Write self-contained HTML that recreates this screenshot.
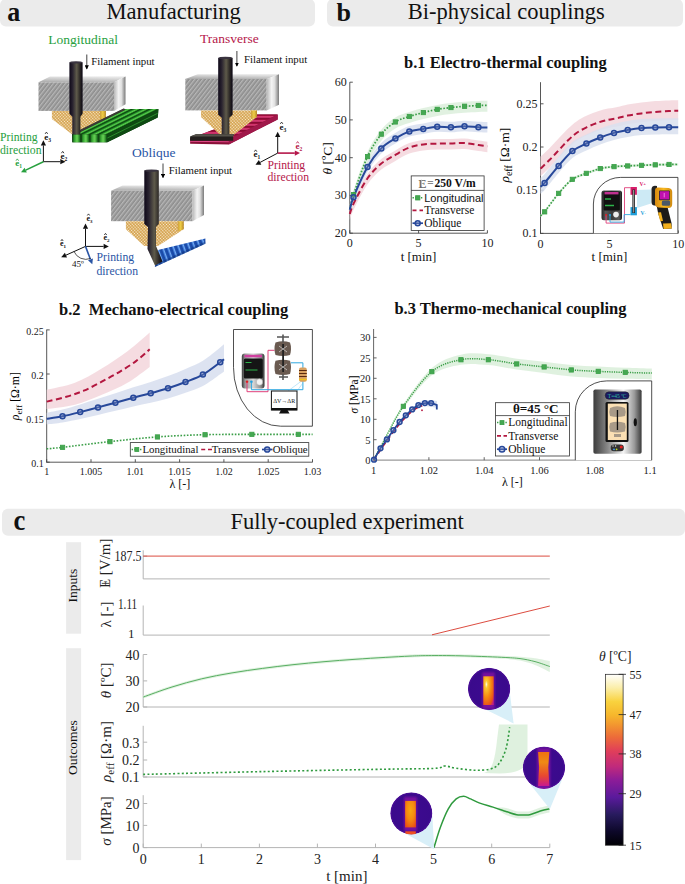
<!DOCTYPE html>
<html><head><meta charset="utf-8"><style>
html,body{margin:0;padding:0;background:#fff;}
svg{display:block;}
text{font-family:"Liberation Serif",serif;}
</style></head><body>
<svg width="685" height="884" viewBox="0 0 685 884">
<rect x="0" y="-1" width="315" height="27.6" rx="6" fill="#ebebeb"/>
<rect x="327" y="-1" width="356" height="27.4" rx="6" fill="#ebebeb"/>
<rect x="2" y="508.8" width="683" height="26.9" rx="6" fill="#ebebeb"/>
<text x="7.3" y="20.6" font-size="28" text-anchor="start" fill="#111" font-weight="bold" font-style="normal" style='font-family:"Liberation Serif",serif' textLength="13" lengthAdjust="spacingAndGlyphs">a</text>
<text x="106.5" y="18.8" font-size="22.6" text-anchor="start" fill="#111" font-weight="normal" font-style="normal" style='font-family:"Liberation Serif",serif' >Manufacturing</text>
<text x="336.5" y="20.6" font-size="26" text-anchor="start" fill="#111" font-weight="bold" font-style="normal" style='font-family:"Liberation Serif",serif' >b</text>
<text x="407.8" y="19.2" font-size="22.5" text-anchor="start" fill="#111" font-weight="normal" font-style="normal" style='font-family:"Liberation Serif",serif' >Bi-physical couplings</text>
<text x="13.4" y="529.9" font-size="29.5" text-anchor="start" fill="#111" font-weight="bold" font-style="normal" style='font-family:"Liberation Serif",serif' textLength="11.8" lengthAdjust="spacingAndGlyphs">c</text>
<text x="230.6" y="528.8" font-size="22.5" text-anchor="start" fill="#111" font-weight="normal" font-style="normal" style='font-family:"Liberation Serif",serif' >Fully-coupled experiment</text>
<text x="404" y="67.7" font-size="16.5" text-anchor="start" fill="#111" font-weight="bold" font-style="normal" style='font-family:"Liberation Serif",serif' >b.1 Electro-thermal coupling</text>
<text x="59" y="314.6" font-size="16.5" text-anchor="start" fill="#111" font-weight="bold" font-style="normal" style='font-family:"Liberation Serif",serif' >b.2&#160; Mechano-electrical coupling</text>
<text x="394.4" y="314" font-size="16.5" text-anchor="start" fill="#111" font-weight="bold" font-style="normal" style='font-family:"Liberation Serif",serif' >b.3 Thermo-mechanical coupling</text>
<path d="M349.8,82.2 V233.2" fill="none" stroke="#444" stroke-width="0.9"/>
<path d="M349.4,233.2 H487.4" fill="none" stroke="#444" stroke-width="0.9"/>
<path d="M349.8,233.2 v-3" stroke="#444" stroke-width="0.9"/>
<text x="349.8" y="247.4" font-size="12" text-anchor="middle" fill="#222" font-weight="normal" font-style="normal" style='font-family:"Liberation Serif",serif' >0</text>
<path d="M418.6,233.2 v-3" stroke="#444" stroke-width="0.9"/>
<text x="418.6" y="247.4" font-size="12" text-anchor="middle" fill="#222" font-weight="normal" font-style="normal" style='font-family:"Liberation Serif",serif' >5</text>
<path d="M487.4,233.2 v-3" stroke="#444" stroke-width="0.9"/>
<text x="487.4" y="247.4" font-size="12" text-anchor="middle" fill="#222" font-weight="normal" font-style="normal" style='font-family:"Liberation Serif",serif' >10</text>
<path d="M349.8,233.2 h3" stroke="#444" stroke-width="0.9"/>
<text x="346.8" y="237.2" font-size="12" text-anchor="end" fill="#222" font-weight="normal" font-style="normal" style='font-family:"Liberation Serif",serif' >20</text>
<path d="M349.8,195.4 h3" stroke="#444" stroke-width="0.9"/>
<text x="346.8" y="199.4" font-size="12" text-anchor="end" fill="#222" font-weight="normal" font-style="normal" style='font-family:"Liberation Serif",serif' >30</text>
<path d="M349.8,157.7 h3" stroke="#444" stroke-width="0.9"/>
<text x="346.8" y="161.7" font-size="12" text-anchor="end" fill="#222" font-weight="normal" font-style="normal" style='font-family:"Liberation Serif",serif' >40</text>
<path d="M349.8,119.9 h3" stroke="#444" stroke-width="0.9"/>
<text x="346.8" y="123.9" font-size="12" text-anchor="end" fill="#222" font-weight="normal" font-style="normal" style='font-family:"Liberation Serif",serif' >50</text>
<path d="M349.8,82.2 h3" stroke="#444" stroke-width="0.9"/>
<text x="346.8" y="86.2" font-size="12" text-anchor="end" fill="#222" font-weight="normal" font-style="normal" style='font-family:"Liberation Serif",serif' >60</text>
<path d="M349.8,209.5 C350.4,207.7 350.8,204.8 353.7,198.9 C356.6,193 362.8,180.6 367.4,174 C372,167.4 376.6,163 381.3,159.1 C386,155.2 390.7,153.1 395.4,150.4 C400.1,147.7 404.6,144.8 409.3,143 C414,141.2 418.7,140.6 423.3,139.9 C427.9,139.2 432.6,139.3 437.2,139.1 C441.8,138.9 446.3,139 450.9,138.9 C455.4,138.8 459.9,138.2 464.5,138.5 C469.1,138.8 474.6,140 478.4,140.5 C482.2,141 485.9,141.5 487.4,141.7 L487.4,152.2 C485.9,152 482.2,151.5 478.4,151 C474.6,150.5 469.1,149.3 464.5,149 C459.9,148.7 455.4,149.3 450.9,149.4 C446.3,149.5 441.8,149.4 437.2,149.6 C432.6,149.8 427.9,149.8 423.3,150.4 C418.7,151.1 414,151.8 409.3,153.5 C404.6,155.2 400.1,158.2 395.4,160.9 C390.7,163.6 386,165.7 381.3,169.6 C376.6,173.5 372,177.9 367.4,184.5 C362.8,191.1 356.6,203.5 353.7,209.4 C350.8,215.3 350.4,218.2 349.8,220 Z" fill="#f4d8de" fill-opacity="0.9" stroke="none"/>
<path d="M349.8,204.2 C350.4,202.1 350.6,198.8 353.5,191.7 C356.4,184.6 362.9,169.6 367.5,161.5 C372.1,153.4 376.7,147.7 381.3,142.9 C385.9,138.1 390.7,135.7 395.4,132.9 C400.1,130.1 404.6,127.6 409.3,126 C414,124.4 418.7,124.2 423.3,123.4 C427.9,122.6 432.6,121.6 437.2,121.3 C441.8,121 446.3,121.9 450.9,121.8 C455.4,121.7 459.9,120.7 464.5,120.7 C469.1,120.7 474.6,121.6 478.4,121.8 C482.2,122 485.9,122 487.4,122 L487.4,132.5 C485.9,132.5 482.2,132.5 478.4,132.3 C474.6,132.1 469.1,131.2 464.5,131.2 C459.9,131.2 455.4,132.2 450.9,132.3 C446.3,132.4 441.8,131.5 437.2,131.8 C432.6,132.1 427.9,133.1 423.3,133.9 C418.7,134.7 414,134.9 409.3,136.5 C404.6,138.1 400.1,140.6 395.4,143.4 C390.7,146.2 385.9,148.6 381.3,153.4 C376.7,158.2 372.1,163.9 367.5,172 C362.9,180.1 356.4,195.1 353.5,202.2 C350.6,209.3 350.4,212.6 349.8,214.7 Z" fill="#d9e0ef" fill-opacity="0.9" stroke="none"/>
<path d="M350,204.5 C350.6,202.1 350.6,198.9 353.5,190.2 C356.4,181.5 362.9,162.2 367.5,152.1 C372.1,142 376.7,135.5 381.3,129.7 C385.9,123.9 390.7,120.5 395.4,117.5 C400.1,114.5 404.6,113.6 409.3,112 C414,110.4 418.7,109.3 423.3,108.1 C427.9,106.9 432.6,105.7 437.2,104.9 C441.8,104.1 446.3,103.6 450.9,103.1 C455.4,102.6 459.9,102.1 464.5,101.8 C469.1,101.5 474.6,101.2 478.4,101 C482.2,100.8 485.9,100.8 487.4,100.8 L487.4,111.8 C485.9,111.8 482.2,111.8 478.4,112 C474.6,112.2 469.1,112.5 464.5,112.8 C459.9,113.1 455.4,113.6 450.9,114.1 C446.3,114.6 441.8,115.1 437.2,115.9 C432.6,116.7 427.9,117.9 423.3,119.1 C418.7,120.3 414,121.4 409.3,123 C404.6,124.6 400.1,125.5 395.4,128.5 C390.7,131.4 385.9,134.9 381.3,140.7 C376.7,146.5 372.1,153 367.5,163.1 C362.9,173.2 356.4,192.5 353.5,201.2 C350.6,209.9 350.6,213.1 350,215.5 Z" fill="#dcefdc" fill-opacity="0.85" stroke="none"/>
<path d="M349.8,214 C350.4,212.2 350.8,209.3 353.7,203.4 C356.6,197.5 362.8,185.1 367.4,178.5 C372,171.9 376.6,167.5 381.3,163.6 C386,159.7 390.7,157.6 395.4,154.9 C400.1,152.2 404.6,149.2 409.3,147.5 C414,145.8 418.7,145.1 423.3,144.4 C427.9,143.8 432.6,143.8 437.2,143.6 C441.8,143.4 446.3,143.5 450.9,143.4 C455.4,143.3 459.9,142.7 464.5,143 C469.1,143.3 474.6,144.5 478.4,145 C482.2,145.5 485.9,146 487.4,146.2" fill="none" stroke="#b3173f" stroke-width="2" stroke-dasharray="6,3.5" stroke-linecap="butt" />
<path d="M350,209 C350.6,206.6 350.6,203.4 353.5,194.7 C356.4,186 362.9,166.7 367.5,156.6 C372.1,146.5 376.7,140 381.3,134.2 C385.9,128.4 390.7,125 395.4,122 C400.1,119 404.6,118.1 409.3,116.5 C414,114.9 418.7,113.8 423.3,112.6 C427.9,111.4 432.6,110.2 437.2,109.4 C441.8,108.6 446.3,108.1 450.9,107.6 C455.4,107.1 459.9,106.6 464.5,106.3 C469.1,106 474.6,105.7 478.4,105.5 C482.2,105.3 485.9,105.3 487.4,105.3" fill="none" stroke="#3a9e47" stroke-width="1.7" stroke-dasharray="1.6,1.6" stroke-linecap="butt" />
<path d="M349.8,209.7 C350.4,207.6 350.6,204.3 353.5,197.2 C356.4,190.1 362.9,175.1 367.5,167 C372.1,158.9 376.7,153.2 381.3,148.4 C385.9,143.6 390.7,141.2 395.4,138.4 C400.1,135.6 404.6,133.1 409.3,131.5 C414,129.9 418.7,129.7 423.3,128.9 C427.9,128.1 432.6,127.1 437.2,126.8 C441.8,126.5 446.3,127.4 450.9,127.3 C455.4,127.2 459.9,126.2 464.5,126.2 C469.1,126.2 474.6,127.1 478.4,127.3 C482.2,127.5 485.9,127.5 487.4,127.5" fill="none" stroke="#27489a" stroke-width="2" stroke-linecap="butt" />
<rect x="351.4" y="192.5" width="4.3" height="4.3" fill="#45a852" stroke="#3a9e47" stroke-width="0.8"/>
<rect x="365.4" y="154.4" width="4.3" height="4.3" fill="#45a852" stroke="#3a9e47" stroke-width="0.8"/>
<rect x="379.2" y="132" width="4.3" height="4.3" fill="#45a852" stroke="#3a9e47" stroke-width="0.8"/>
<rect x="393.2" y="119.8" width="4.3" height="4.3" fill="#45a852" stroke="#3a9e47" stroke-width="0.8"/>
<rect x="407.2" y="114.3" width="4.3" height="4.3" fill="#45a852" stroke="#3a9e47" stroke-width="0.8"/>
<rect x="421.2" y="110.4" width="4.3" height="4.3" fill="#45a852" stroke="#3a9e47" stroke-width="0.8"/>
<rect x="435.1" y="107.2" width="4.3" height="4.3" fill="#45a852" stroke="#3a9e47" stroke-width="0.8"/>
<rect x="448.8" y="105.4" width="4.3" height="4.3" fill="#45a852" stroke="#3a9e47" stroke-width="0.8"/>
<rect x="462.4" y="104.1" width="4.3" height="4.3" fill="#45a852" stroke="#3a9e47" stroke-width="0.8"/>
<rect x="476.2" y="103.3" width="4.3" height="4.3" fill="#45a852" stroke="#3a9e47" stroke-width="0.8"/>
<circle cx="353.5" cy="197.2" r="2.5" fill="#7d90c4" fill-opacity="0.35" stroke="#27489a" stroke-width="1.5"/>
<circle cx="367.5" cy="167" r="2.5" fill="#7d90c4" fill-opacity="0.35" stroke="#27489a" stroke-width="1.5"/>
<circle cx="381.3" cy="148.4" r="2.5" fill="#7d90c4" fill-opacity="0.35" stroke="#27489a" stroke-width="1.5"/>
<circle cx="395.4" cy="138.4" r="2.5" fill="#7d90c4" fill-opacity="0.35" stroke="#27489a" stroke-width="1.5"/>
<circle cx="409.3" cy="131.5" r="2.5" fill="#7d90c4" fill-opacity="0.35" stroke="#27489a" stroke-width="1.5"/>
<circle cx="423.3" cy="128.9" r="2.5" fill="#7d90c4" fill-opacity="0.35" stroke="#27489a" stroke-width="1.5"/>
<circle cx="437.2" cy="126.8" r="2.5" fill="#7d90c4" fill-opacity="0.35" stroke="#27489a" stroke-width="1.5"/>
<circle cx="450.9" cy="127.3" r="2.5" fill="#7d90c4" fill-opacity="0.35" stroke="#27489a" stroke-width="1.5"/>
<circle cx="464.5" cy="126.2" r="2.5" fill="#7d90c4" fill-opacity="0.35" stroke="#27489a" stroke-width="1.5"/>
<circle cx="478.4" cy="127.3" r="2.5" fill="#7d90c4" fill-opacity="0.35" stroke="#27489a" stroke-width="1.5"/>
<text x="418.5" y="260.6" font-size="13" text-anchor="middle" fill="#111" font-weight="normal" font-style="normal" style='font-family:"Liberation Serif",serif' >t [min]</text>
<text transform="translate(331.6,158.4) rotate(-90)" font-size="13.5" text-anchor="middle" style='font-family:"Liberation Serif",serif'><tspan font-style="italic">&#952;</tspan> [ºC]</text>
<rect x="411.2" y="175.9" width="72.9" height="54.5" fill="#fff" stroke="#333" stroke-width="0.8"/>
<path d="M411.2,190.4 H484.1" stroke="#333" stroke-width="0.8"/>
<text x="418.6" y="187.6" font-size="13.5" fill="#6a6a6a" font-weight="bold" style='font-family:"Liberation Serif",serif' textLength="8" lengthAdjust="spacingAndGlyphs">E</text>
<path d="M421.4,179.6 V186.3" stroke="#c8c8c8" stroke-width="0.8"/>
<text x="427.2" y="187.3" font-size="13" fill="#888" font-weight="bold" style='font-family:"Liberation Serif",serif' textLength="6.4" lengthAdjust="spacingAndGlyphs">=</text>
<text x="434.4" y="187.3" font-size="13" fill="#111" font-weight="bold" style='font-family:"Liberation Serif",serif' textLength="41.4" lengthAdjust="spacingAndGlyphs">250 V/m</text>
<path d="M412.5,197.8 H423" stroke="#3a9e47" stroke-width="1.5" stroke-dasharray="1.4,1.4"/>
<rect x="415.6" y="195.7" width="4.3" height="4.3" fill="#45a852" stroke="#3a9e47" stroke-width="0.8"/>
<text x="424.2" y="201.6" font-size="11" text-anchor="start" fill="#111" font-weight="normal" font-style="normal" style='font-family:"Liberation Sans",sans-serif' >Longitudinal</text>
<path d="M412.5,210.3 H423" stroke="#b3173f" stroke-width="1.7" stroke-dasharray="4,3"/>
<text x="424.2" y="214.1" font-size="11.5" text-anchor="start" fill="#111" font-weight="normal" font-style="normal" style='font-family:"Liberation Serif",serif' >Transverse</text>
<path d="M412.5,223.2 H423" stroke="#27489a" stroke-width="1.7"/>
<circle cx="417.7" cy="223.2" r="2.5" fill="#7d90c4" fill-opacity="0.35" stroke="#27489a" stroke-width="1.5"/>
<text x="424.2" y="227.1" font-size="11.5" text-anchor="start" fill="#111" font-weight="normal" font-style="normal" style='font-family:"Liberation Serif",serif' >Oblique</text>
<path d="M540.5,82.2 V233.4" fill="none" stroke="#444" stroke-width="0.9"/>
<path d="M540,233.4 H678.2" fill="none" stroke="#444" stroke-width="0.9"/>
<path d="M540.5,233.4 v-3" stroke="#444" stroke-width="0.9"/>
<text x="540.5" y="247.6" font-size="12" text-anchor="middle" fill="#222" font-weight="normal" font-style="normal" style='font-family:"Liberation Serif",serif' >0</text>
<path d="M609.4,233.4 v-3" stroke="#444" stroke-width="0.9"/>
<text x="609.4" y="247.6" font-size="12" text-anchor="middle" fill="#222" font-weight="normal" font-style="normal" style='font-family:"Liberation Serif",serif' >5</text>
<path d="M678.2,233.4 v-3" stroke="#444" stroke-width="0.9"/>
<text x="678.2" y="247.6" font-size="12" text-anchor="middle" fill="#222" font-weight="normal" font-style="normal" style='font-family:"Liberation Serif",serif' >10</text>
<path d="M540.5,233.4 h3" stroke="#444" stroke-width="0.9"/>
<text x="537.5" y="237.4" font-size="12" text-anchor="end" fill="#222" font-weight="normal" font-style="normal" style='font-family:"Liberation Serif",serif' >0.1</text>
<path d="M540.5,190.2 h3" stroke="#444" stroke-width="0.9"/>
<text x="537.5" y="194.2" font-size="12" text-anchor="end" fill="#222" font-weight="normal" font-style="normal" style='font-family:"Liberation Serif",serif' >0.15</text>
<path d="M540.5,147 h3" stroke="#444" stroke-width="0.9"/>
<text x="537.5" y="151" font-size="12" text-anchor="end" fill="#222" font-weight="normal" font-style="normal" style='font-family:"Liberation Serif",serif' >0.2</text>
<path d="M540.5,103.8 h3" stroke="#444" stroke-width="0.9"/>
<text x="537.5" y="107.8" font-size="12" text-anchor="end" fill="#222" font-weight="normal" font-style="normal" style='font-family:"Liberation Serif",serif' >0.25</text>
<path d="M540.5,156.6 C542,155.2 546.6,151 549.7,147.9 C552.8,144.8 555.9,141.4 559,138.1 C562.1,134.8 565.5,131.1 568.4,128.3 C571.3,125.5 573.4,123.5 576.5,121.4 C579.6,119.3 583.3,117.3 587,115.6 C590.7,113.9 595.2,112.2 598.7,111 C602.2,109.9 604.9,109.3 608,108.6 C611.1,108 614.1,107.6 617.4,106.9 C620.7,106.3 623.7,105.3 627.7,104.5 C631.7,103.8 636.9,103.1 641.5,102.5 C646.1,101.9 650.7,101.5 655.3,101.1 C659.9,100.8 665.2,100.5 669,100.4 C672.8,100.3 676.7,100.3 678.2,100.3 L678.2,120.1 C676.7,120.1 672.8,120 669,120.2 C665.2,120.3 659.9,120.6 655.3,120.9 C650.7,121.2 646.1,121.7 641.5,122.2 C636.9,122.8 631.7,123.5 627.7,124.2 C623.7,125 620.7,125.9 617.4,126.6 C614.1,127.3 611.1,127.6 608,128.3 C604.9,129 602.2,129.5 598.7,130.7 C595.2,131.8 590.7,133.5 587,135.2 C583.3,136.9 579.6,138.9 576.5,141 C573.4,143.1 571.3,145.1 568.4,147.9 C565.5,150.6 562.1,154.4 559,157.6 C555.9,160.9 552.8,164.3 549.7,167.4 C546.6,170.5 542,174.7 540.5,176.1 Z" fill="#f4d8de" fill-opacity="0.9" stroke="none"/>
<path d="M540.5,177.7 C541.2,177.1 541.6,177.4 544.6,173.9 C547.6,170.4 554,162.2 558.6,156.9 C563.2,151.6 567.8,145.7 572.4,142 C577,138.3 581.8,136.8 586.4,134.5 C591,132.2 595.6,130.3 600.2,128.5 C604.8,126.7 609.4,125.2 614,123.9 C618.6,122.7 623.1,121.8 627.7,121 C632.3,120.2 636.9,119.5 641.5,119.1 C646.1,118.7 650.7,118.6 655.3,118.5 C659.9,118.4 665.2,118.3 669,118.3 C672.8,118.3 676.7,118.3 678.2,118.3 L678.2,134.3 C676.7,134.3 672.8,134.3 669,134.3 C665.2,134.3 659.9,134.4 655.3,134.5 C650.7,134.6 646.1,134.7 641.5,135.1 C636.9,135.5 632.3,136.2 627.7,137 C623.1,137.8 618.6,138.7 614,139.9 C609.4,141.2 604.8,142.7 600.2,144.5 C595.6,146.3 591,148.2 586.4,150.5 C581.8,152.8 577,154.3 572.4,158 C567.8,161.7 563.2,167.6 558.6,172.9 C554,178.2 547.6,186.4 544.6,189.9 C541.6,193.4 541.2,193.1 540.5,193.7 Z" fill="#d9e0ef" fill-opacity="0.85" stroke="none"/>
<path d="M540.5,214.5 C541.2,213.8 541.6,214.2 544.6,210.5 C547.6,206.8 554,197.5 558.6,192.1 C563.2,186.7 567.8,181.4 572.4,178.1 C577,174.8 581.8,173.9 586.4,172.1 C591,170.3 595.6,168.4 600.2,167.3 C604.8,166.2 609.4,165.8 614,165.4 C618.6,164.9 623.1,164.8 627.7,164.6 C632.3,164.4 636.9,164.2 641.5,164 C646.1,163.8 650.7,163.6 655.3,163.5 C659.9,163.4 665.2,163.2 669,163.2 C672.8,163.1 676.7,163.2 678.2,163.2 L678.2,165.8 C676.7,165.8 672.8,165.8 669,165.8 C665.2,165.9 659.9,166 655.3,166.1 C650.7,166.2 646.1,166.4 641.5,166.6 C636.9,166.8 632.3,167 627.7,167.2 C623.1,167.4 618.6,167.6 614,168 C609.4,168.4 604.8,168.8 600.2,169.9 C595.6,171 591,172.9 586.4,174.7 C581.8,176.5 577,177.4 572.4,180.7 C567.8,184 563.2,189.3 558.6,194.7 C554,200.1 547.6,209.4 544.6,213.1 C541.6,216.8 541.2,216.4 540.5,217.1 Z" fill="#dcefdc" fill-opacity="0.9" stroke="none"/>
<path d="M540.5,168.6 C542,167.1 546.6,162.9 549.7,159.8 C552.8,156.7 555.9,153.2 559,149.9 C562.1,146.6 565.5,142.8 568.4,140 C571.3,137.2 573.4,135.2 576.5,133 C579.6,130.8 583.3,128.9 587,127.1 C590.7,125.3 595.2,123.6 598.7,122.4 C602.2,121.2 604.9,120.6 608,119.9 C611.1,119.2 614.1,118.8 617.4,118.1 C620.7,117.4 623.7,116.4 627.7,115.6 C631.7,114.8 636.9,114 641.5,113.4 C646.1,112.8 650.7,112.3 655.3,111.9 C659.9,111.5 665.2,111.2 669,111 C672.8,110.8 676.7,110.8 678.2,110.8" fill="none" stroke="#b3173f" stroke-width="2" stroke-dasharray="6,3.5" stroke-linecap="butt" />
<path d="M540.5,215.8 C541.2,215.1 541.6,215.5 544.6,211.8 C547.6,208.1 554,198.8 558.6,193.4 C563.2,188 567.8,182.7 572.4,179.4 C577,176.1 581.8,175.2 586.4,173.4 C591,171.6 595.6,169.7 600.2,168.6 C604.8,167.5 609.4,167.1 614,166.7 C618.6,166.2 623.1,166.1 627.7,165.9 C632.3,165.7 636.9,165.5 641.5,165.3 C646.1,165.1 650.7,164.9 655.3,164.8 C659.9,164.7 665.2,164.6 669,164.5 C672.8,164.4 676.7,164.5 678.2,164.5" fill="none" stroke="#3a9e47" stroke-width="1.7" stroke-dasharray="1.6,1.6" stroke-linecap="butt" />
<path d="M540.5,186.7 C541.2,186.1 541.6,186.4 544.6,182.9 C547.6,179.4 554,171.2 558.6,165.9 C563.2,160.6 567.8,154.7 572.4,151 C577,147.3 581.8,145.8 586.4,143.5 C591,141.2 595.6,139.3 600.2,137.5 C604.8,135.7 609.4,134.2 614,132.9 C618.6,131.7 623.1,130.8 627.7,130 C632.3,129.2 636.9,128.5 641.5,128.1 C646.1,127.7 650.7,127.6 655.3,127.5 C659.9,127.4 665.2,127.3 669,127.3 C672.8,127.3 676.7,127.3 678.2,127.3" fill="none" stroke="#27489a" stroke-width="2" stroke-linecap="butt" />
<rect x="542.5" y="209.7" width="4.3" height="4.3" fill="#45a852" stroke="#3a9e47" stroke-width="0.8"/>
<rect x="556.5" y="191.2" width="4.3" height="4.3" fill="#45a852" stroke="#3a9e47" stroke-width="0.8"/>
<rect x="570.2" y="177.2" width="4.3" height="4.3" fill="#45a852" stroke="#3a9e47" stroke-width="0.8"/>
<rect x="584.2" y="171.2" width="4.3" height="4.3" fill="#45a852" stroke="#3a9e47" stroke-width="0.8"/>
<rect x="598.1" y="166.4" width="4.3" height="4.3" fill="#45a852" stroke="#3a9e47" stroke-width="0.8"/>
<rect x="611.9" y="164.5" width="4.3" height="4.3" fill="#45a852" stroke="#3a9e47" stroke-width="0.8"/>
<rect x="625.6" y="163.8" width="4.3" height="4.3" fill="#45a852" stroke="#3a9e47" stroke-width="0.8"/>
<rect x="639.4" y="163.2" width="4.3" height="4.3" fill="#45a852" stroke="#3a9e47" stroke-width="0.8"/>
<rect x="653.1" y="162.7" width="4.3" height="4.3" fill="#45a852" stroke="#3a9e47" stroke-width="0.8"/>
<rect x="666.9" y="162.3" width="4.3" height="4.3" fill="#45a852" stroke="#3a9e47" stroke-width="0.8"/>
<circle cx="544.6" cy="182.9" r="2.5" fill="#7d90c4" fill-opacity="0.35" stroke="#27489a" stroke-width="1.5"/>
<circle cx="558.6" cy="165.9" r="2.5" fill="#7d90c4" fill-opacity="0.35" stroke="#27489a" stroke-width="1.5"/>
<circle cx="572.4" cy="151" r="2.5" fill="#7d90c4" fill-opacity="0.35" stroke="#27489a" stroke-width="1.5"/>
<circle cx="586.4" cy="143.5" r="2.5" fill="#7d90c4" fill-opacity="0.35" stroke="#27489a" stroke-width="1.5"/>
<circle cx="600.2" cy="137.5" r="2.5" fill="#7d90c4" fill-opacity="0.35" stroke="#27489a" stroke-width="1.5"/>
<circle cx="614" cy="132.9" r="2.5" fill="#7d90c4" fill-opacity="0.35" stroke="#27489a" stroke-width="1.5"/>
<circle cx="627.7" cy="130" r="2.5" fill="#7d90c4" fill-opacity="0.35" stroke="#27489a" stroke-width="1.5"/>
<circle cx="641.5" cy="128.1" r="2.5" fill="#7d90c4" fill-opacity="0.35" stroke="#27489a" stroke-width="1.5"/>
<circle cx="655.3" cy="127.5" r="2.5" fill="#7d90c4" fill-opacity="0.35" stroke="#27489a" stroke-width="1.5"/>
<circle cx="669" cy="127.3" r="2.5" fill="#7d90c4" fill-opacity="0.35" stroke="#27489a" stroke-width="1.5"/>
<text x="609.4" y="260.6" font-size="13" text-anchor="middle" fill="#111" font-weight="normal" font-style="normal" style='font-family:"Liberation Serif",serif' >t [min]</text>
<text transform="translate(508.8,155.2) rotate(-90)" font-size="13.5" text-anchor="middle" style='font-family:"Liberation Serif",serif'><tspan font-style="italic">&#961;</tspan><tspan font-size="10" dy="3.5">eff</tspan><tspan dy="-3.5"> [&#937;·m]</tspan></text>
<path d="M46.7,329.6 V462.2" fill="none" stroke="#444" stroke-width="0.9"/>
<path d="M46.2,462.2 H312.6" fill="none" stroke="#444" stroke-width="0.9"/>
<path d="M46.7,462.2 v-3" stroke="#444" stroke-width="0.9"/>
<text x="46.7" y="475.2" font-size="11.2" text-anchor="middle" fill="#222" font-weight="normal" font-style="normal" style='font-family:"Liberation Serif",serif'  textLength="5" lengthAdjust="spacingAndGlyphs">1</text>
<path d="M91,462.2 v-3" stroke="#444" stroke-width="0.9"/>
<text x="91" y="475.2" font-size="11.2" text-anchor="middle" fill="#222" font-weight="normal" font-style="normal" style='font-family:"Liberation Serif",serif'  textLength="22.5" lengthAdjust="spacingAndGlyphs">1.005</text>
<path d="M135.3,462.2 v-3" stroke="#444" stroke-width="0.9"/>
<text x="135.3" y="475.2" font-size="11.2" text-anchor="middle" fill="#222" font-weight="normal" font-style="normal" style='font-family:"Liberation Serif",serif'  textLength="17.5" lengthAdjust="spacingAndGlyphs">1.01</text>
<path d="M179.6,462.2 v-3" stroke="#444" stroke-width="0.9"/>
<text x="179.6" y="475.2" font-size="11.2" text-anchor="middle" fill="#222" font-weight="normal" font-style="normal" style='font-family:"Liberation Serif",serif'  textLength="22.5" lengthAdjust="spacingAndGlyphs">1.015</text>
<path d="M223.9,462.2 v-3" stroke="#444" stroke-width="0.9"/>
<text x="223.9" y="475.2" font-size="11.2" text-anchor="middle" fill="#222" font-weight="normal" font-style="normal" style='font-family:"Liberation Serif",serif'  textLength="17.5" lengthAdjust="spacingAndGlyphs">1.02</text>
<path d="M268.2,462.2 v-3" stroke="#444" stroke-width="0.9"/>
<text x="268.2" y="475.2" font-size="11.2" text-anchor="middle" fill="#222" font-weight="normal" font-style="normal" style='font-family:"Liberation Serif",serif'  textLength="22.5" lengthAdjust="spacingAndGlyphs">1.025</text>
<path d="M312.5,462.2 v-3" stroke="#444" stroke-width="0.9"/>
<text x="312.5" y="475.2" font-size="11.2" text-anchor="middle" fill="#222" font-weight="normal" font-style="normal" style='font-family:"Liberation Serif",serif'  textLength="17.5" lengthAdjust="spacingAndGlyphs">1.03</text>
<path d="M46.7,462.2 h3" stroke="#444" stroke-width="0.9"/>
<text x="43.7" y="467.1" font-size="11.2" text-anchor="end" fill="#222" font-weight="normal" font-style="normal" style='font-family:"Liberation Serif",serif'  textLength="12.5" lengthAdjust="spacingAndGlyphs">0.1</text>
<path d="M46.7,418.1 h3" stroke="#444" stroke-width="0.9"/>
<text x="43.7" y="423" font-size="11.2" text-anchor="end" fill="#222" font-weight="normal" font-style="normal" style='font-family:"Liberation Serif",serif'  textLength="17.5" lengthAdjust="spacingAndGlyphs">0.15</text>
<path d="M46.7,374 h3" stroke="#444" stroke-width="0.9"/>
<text x="43.7" y="378.9" font-size="11.2" text-anchor="end" fill="#222" font-weight="normal" font-style="normal" style='font-family:"Liberation Serif",serif'  textLength="12.5" lengthAdjust="spacingAndGlyphs">0.2</text>
<path d="M46.7,329.9 h3" stroke="#444" stroke-width="0.9"/>
<text x="43.7" y="334.8" font-size="11.2" text-anchor="end" fill="#222" font-weight="normal" font-style="normal" style='font-family:"Liberation Serif",serif'  textLength="17.5" lengthAdjust="spacingAndGlyphs">0.25</text>
<path d="M46.7,389.8 C51.4,388.6 65.9,386.3 75,382.8 C84.1,379.3 92.5,374.1 101.3,368.8 C110,363.6 119.4,357.4 127.5,351.3 C135.6,345.2 146,335.6 149.7,332.5 L149.7,367 C146,369.6 135.6,378.1 127.5,382.8 C119.4,387.5 110,391.4 101.3,395 C92.5,398.6 84.1,402.4 75,404.7 C65.9,407 51.4,408.3 46.7,409 Z" fill="#f4d8de" fill-opacity="0.9"/>
<path d="M46.7,412.8 C49.3,412.2 56.9,410.9 62.5,409.5 C68.1,408.1 74.3,406.2 80.2,404.4 C86.1,402.6 92.1,400.7 98,398.8 C103.9,396.9 109.5,395.1 115.4,393.2 C121.3,391.3 127.4,389.2 133.3,387.3 C139.2,385.4 144.9,383.8 150.7,381.9 C156.5,380.1 162.2,378.3 168,376.1 C173.8,374 179.7,371.5 185.5,368.9 C191.3,366.4 197.1,364.3 202.9,360.7 C208.7,357.1 216.7,350.1 220.2,347.4 C223.7,344.6 223.4,344.7 224,344.2 L224,371.5 C223.4,371.9 223.7,371.9 220.2,374.3 C216.7,376.7 208.7,383 202.9,386.1 C197.1,389.1 191.3,390.7 185.5,392.8 C179.7,394.9 173.8,396.8 168,398.4 C162.2,400.1 156.5,401.3 150.7,402.7 C144.9,404 139.2,405.1 133.3,406.5 C127.4,407.9 121.3,409.4 115.4,410.8 C109.5,412.2 103.9,413.5 98,414.9 C92.1,416.2 86.1,417.6 80.2,418.9 C74.3,420.1 68.1,421.5 62.5,422.4 C56.9,423.3 49.3,424 46.7,424.3 Z" fill="#d9e0ef" fill-opacity="0.9"/>
<path d="M46.7,401.6 C50,400.8 60.1,398.6 66.3,396.8 C72.5,395 78,393.2 83.8,390.7 C89.6,388.2 95.5,385 101.3,381.9 C107.1,378.8 113,375.8 118.8,372.3 C124.6,368.8 131.2,364.7 136.3,360.9 C141.5,357.1 147.5,351.2 149.7,349.3" fill="none" stroke="#b3173f" stroke-width="2" stroke-dasharray="6,3.5" stroke-linecap="butt" />
<path d="M46.7,448.8 C49.3,448.6 52,448.5 62.5,447.3 C73,446.1 94.2,443.3 110,441.6 C125.8,439.9 141.7,438 157.5,436.9 C173.3,435.8 189.4,435.1 205.1,434.7 C220.8,434.3 236.2,434.4 251.8,434.4 C267.4,434.3 288.3,434.4 298.4,434.4 C308.5,434.4 310.2,434.4 312.6,434.4" fill="none" stroke="#3a9e47" stroke-width="1.6" stroke-dasharray="1.6,1.6" stroke-linecap="butt" />
<path d="M46.7,418.8 C49.3,418.4 56.9,417.4 62.5,416.3 C68.1,415.2 74.3,413.6 80.2,412.1 C86.1,410.6 92.1,409 98,407.4 C103.9,405.8 109.5,404.3 115.4,402.7 C121.3,401.1 127.4,399.3 133.3,397.7 C139.2,396.1 144.9,394.8 150.7,393.2 C156.5,391.6 162.2,390.2 168,388.3 C173.8,386.4 179.7,384.3 185.5,382 C191.3,379.7 197.1,377.9 202.9,374.6 C208.7,371.3 216.7,364.8 220.2,362.2 C223.7,359.6 223.4,359.7 224,359.2" fill="none" stroke="#27489a" stroke-width="2" stroke-linecap="butt" />
<rect x="60.4" y="445.2" width="4.3" height="4.3" fill="#45a852" stroke="#3a9e47" stroke-width="0.8"/>
<rect x="107.8" y="439.5" width="4.3" height="4.3" fill="#45a852" stroke="#3a9e47" stroke-width="0.8"/>
<rect x="155.3" y="434.8" width="4.3" height="4.3" fill="#45a852" stroke="#3a9e47" stroke-width="0.8"/>
<rect x="202.9" y="432.6" width="4.3" height="4.3" fill="#45a852" stroke="#3a9e47" stroke-width="0.8"/>
<rect x="249.7" y="432.2" width="4.3" height="4.3" fill="#45a852" stroke="#3a9e47" stroke-width="0.8"/>
<rect x="296.2" y="432.2" width="4.3" height="4.3" fill="#45a852" stroke="#3a9e47" stroke-width="0.8"/>
<circle cx="62.5" cy="416.3" r="2.5" fill="#7d90c4" fill-opacity="0.35" stroke="#27489a" stroke-width="1.5"/>
<circle cx="80.2" cy="412.1" r="2.5" fill="#7d90c4" fill-opacity="0.35" stroke="#27489a" stroke-width="1.5"/>
<circle cx="98" cy="407.4" r="2.5" fill="#7d90c4" fill-opacity="0.35" stroke="#27489a" stroke-width="1.5"/>
<circle cx="115.4" cy="402.7" r="2.5" fill="#7d90c4" fill-opacity="0.35" stroke="#27489a" stroke-width="1.5"/>
<circle cx="133.3" cy="397.7" r="2.5" fill="#7d90c4" fill-opacity="0.35" stroke="#27489a" stroke-width="1.5"/>
<circle cx="150.7" cy="393.2" r="2.5" fill="#7d90c4" fill-opacity="0.35" stroke="#27489a" stroke-width="1.5"/>
<circle cx="168" cy="388.3" r="2.5" fill="#7d90c4" fill-opacity="0.35" stroke="#27489a" stroke-width="1.5"/>
<circle cx="185.5" cy="382" r="2.5" fill="#7d90c4" fill-opacity="0.35" stroke="#27489a" stroke-width="1.5"/>
<circle cx="202.9" cy="374.6" r="2.5" fill="#7d90c4" fill-opacity="0.35" stroke="#27489a" stroke-width="1.5"/>
<circle cx="220.2" cy="362.2" r="2.5" fill="#7d90c4" fill-opacity="0.35" stroke="#27489a" stroke-width="1.5"/>
<text x="179.8" y="487.5" font-size="12" text-anchor="middle" fill="#111" font-weight="normal" font-style="normal" style='font-family:"Liberation Serif",serif' >&#955; [-]</text>
<text transform="translate(18.8,396.2) rotate(-90)" font-size="11.8" text-anchor="middle" style='font-family:"Liberation Serif",serif'><tspan font-style="italic">&#961;</tspan><tspan font-size="9" dy="3">eff</tspan><tspan dy="-3"> [&#937;·m]</tspan></text>
<rect x="130.3" y="442.6" width="178.5" height="13.6" fill="#fff" stroke="#333" stroke-width="0.8"/>
<path d="M131.6,449.5 H141.8" stroke="#3a9e47" stroke-width="1.5" stroke-dasharray="1.4,1.4"/>
<rect x="134.8" y="447.5" width="4" height="4" fill="#45a852" stroke="#3a9e47" stroke-width="0.8"/>
<text x="142.4" y="452.9" font-size="11.2" text-anchor="start" fill="#111" font-weight="normal" font-style="normal" style='font-family:"Liberation Serif",serif' textLength="56" lengthAdjust="spacingAndGlyphs">Longitudinal</text>
<path d="M201.2,449.5 H212" stroke="#b3173f" stroke-width="1.7" stroke-dasharray="4,2.8"/>
<text x="211.8" y="452.9" font-size="11.2" text-anchor="start" fill="#111" font-weight="normal" font-style="normal" style='font-family:"Liberation Serif",serif' textLength="47.4" lengthAdjust="spacingAndGlyphs">Transverse</text>
<path d="M262,449.5 H272.5" stroke="#27489a" stroke-width="1.7"/>
<circle cx="267.2" cy="449.5" r="2.6" fill="#7d90c4" fill-opacity="0.35" stroke="#27489a" stroke-width="1.5"/>
<text x="272.8" y="452.9" font-size="11.2" text-anchor="start" fill="#111" font-weight="normal" font-style="normal" style='font-family:"Liberation Serif",serif' textLength="34.8" lengthAdjust="spacingAndGlyphs">Oblique</text>
<path d="M373.6,329 V460.2" fill="none" stroke="#555" stroke-width="0.9"/>
<path d="M373.2,460.2 H651.8" fill="none" stroke="#9a9a9a" stroke-width="1.3"/>
<path d="M373.6,460.2 v-3" stroke="#555" stroke-width="0.9"/>
<text x="373.6" y="473.8" font-size="10.5" text-anchor="middle" fill="#222" font-weight="normal" font-style="normal" style='font-family:"Liberation Serif",serif' >1</text>
<path d="M428.9,460.2 v-3" stroke="#555" stroke-width="0.9"/>
<text x="428.9" y="473.8" font-size="10.5" text-anchor="middle" fill="#222" font-weight="normal" font-style="normal" style='font-family:"Liberation Serif",serif' >1.02</text>
<path d="M484.2,460.2 v-3" stroke="#555" stroke-width="0.9"/>
<text x="484.2" y="473.8" font-size="10.5" text-anchor="middle" fill="#222" font-weight="normal" font-style="normal" style='font-family:"Liberation Serif",serif' >1.04</text>
<path d="M539.5,460.2 v-3" stroke="#555" stroke-width="0.9"/>
<text x="539.5" y="473.8" font-size="10.5" text-anchor="middle" fill="#222" font-weight="normal" font-style="normal" style='font-family:"Liberation Serif",serif' >1.06</text>
<path d="M594.8,460.2 v-3" stroke="#555" stroke-width="0.9"/>
<text x="594.8" y="473.8" font-size="10.5" text-anchor="middle" fill="#222" font-weight="normal" font-style="normal" style='font-family:"Liberation Serif",serif' >1.08</text>
<path d="M650.1,460.2 v-3" stroke="#555" stroke-width="0.9"/>
<text x="650.1" y="473.8" font-size="10.5" text-anchor="middle" fill="#222" font-weight="normal" font-style="normal" style='font-family:"Liberation Serif",serif' >1.1</text>
<path d="M373.6,460.2 h3" stroke="#555" stroke-width="0.9"/>
<text x="370.6" y="464.2" font-size="10.5" text-anchor="end" fill="#222" font-weight="normal" font-style="normal" style='font-family:"Liberation Serif",serif' >0</text>
<path d="M373.6,439.7 h3" stroke="#555" stroke-width="0.9"/>
<text x="370.6" y="443.7" font-size="10.5" text-anchor="end" fill="#222" font-weight="normal" font-style="normal" style='font-family:"Liberation Serif",serif' >5</text>
<path d="M373.6,419.3 h3" stroke="#555" stroke-width="0.9"/>
<text x="370.6" y="423.3" font-size="10.5" text-anchor="end" fill="#222" font-weight="normal" font-style="normal" style='font-family:"Liberation Serif",serif' >10</text>
<path d="M373.6,398.8 h3" stroke="#555" stroke-width="0.9"/>
<text x="370.6" y="402.8" font-size="10.5" text-anchor="end" fill="#222" font-weight="normal" font-style="normal" style='font-family:"Liberation Serif",serif' >15</text>
<path d="M373.6,378.3 h3" stroke="#555" stroke-width="0.9"/>
<text x="370.6" y="382.3" font-size="10.5" text-anchor="end" fill="#222" font-weight="normal" font-style="normal" style='font-family:"Liberation Serif",serif' >20</text>
<path d="M373.6,357.9 h3" stroke="#555" stroke-width="0.9"/>
<text x="370.6" y="361.9" font-size="10.5" text-anchor="end" fill="#222" font-weight="normal" font-style="normal" style='font-family:"Liberation Serif",serif' >25</text>
<path d="M373.6,337.4 h3" stroke="#555" stroke-width="0.9"/>
<text x="370.6" y="341.4" font-size="10.5" text-anchor="end" fill="#222" font-weight="normal" font-style="normal" style='font-family:"Liberation Serif",serif' >30</text>
<path d="M373.6,459.7 C376,455 383.1,440.9 388,431.7 C392.9,422.5 396,414.8 403.3,404.2 C410.6,393.6 422.2,376.3 431.8,368 C441.4,359.7 451.5,356.9 460.9,354.7 C470.3,352.4 479.1,353.6 488.4,354.3 C497.7,355 507.5,357.4 516.8,358.7 C526.1,359.9 535,360.8 544.1,361.8 C553.2,362.9 562.4,364.2 571.4,365 C580.4,365.8 589.2,366.1 598.2,366.6 C607.2,367.1 616.4,367.4 625.3,367.8 C634.2,368.1 647.4,368.5 651.8,368.6 L651.8,379.4 C647.4,379.3 634.2,379.1 625.3,378.8 C616.4,378.6 607.2,378.4 598.2,378 C589.2,377.6 580.4,377.4 571.4,376.6 C562.4,375.8 553.2,374.3 544.1,373.1 C535,371.9 526.1,370.9 516.8,369.6 C507.5,368.2 497.7,365.9 488.4,365.1 C479.1,364.3 470.3,363.1 460.9,364.7 C451.5,366.4 441.4,367.9 431.8,375.2 C422.2,382.5 410.6,398.7 403.3,408.6 C396,418.4 392.9,425.6 388,434.3 C383.1,443 376,456.3 373.6,460.7 Z" fill="#dcefdc" fill-opacity="0.9"/>
<path d="M418,402 Q428,399 437,401 L437,408 Q428,405 418,407 Z" fill="#d9e0ef" fill-opacity="0.9"/>
<path d="M373.6,460.2 C374.8,458.4 378.3,452.8 380.5,449.5 C382.7,446.2 384.8,443.5 386.9,440.5 C389,437.5 391.3,434.3 393.4,431.5 C395.5,428.7 397.5,425.9 399.6,423.5 C401.7,421.1 403.7,418.9 405.8,416.8 C407.9,414.7 410.1,412.6 412.2,411 C414.3,409.4 416.8,407.9 418.4,407 C420,406.1 421.4,405.8 422,405.5" fill="none" stroke="#b3173f" stroke-width="2" stroke-dasharray="5,3" stroke-linecap="butt" />
<path d="M373.6,460.2 C376,455.7 383.1,442 388,433 C392.9,424 396,416.6 403.3,406.4 C410.6,396.2 422.2,379.4 431.8,371.6 C441.4,363.8 451.5,361.7 460.9,359.7 C470.3,357.7 479.1,359 488.4,359.7 C497.7,360.4 507.5,362.7 516.8,363.9 C526.1,365.1 535,365.9 544.1,366.9 C553.2,367.9 562.4,369.1 571.4,369.9 C580.4,370.6 589.2,371 598.2,371.4 C607.2,371.8 616.4,372.1 625.3,372.4 C634.2,372.7 647.4,373 651.8,373.1" fill="none" stroke="#3a9e47" stroke-width="1.5" stroke-dasharray="1.2,1.1" stroke-linecap="butt" />
<path d="M374,459.7 C375.1,457.8 378.4,451.7 380.5,448.3 C382.6,444.9 384.8,442.4 386.9,439.4 C389,436.4 391.3,433.1 393.4,430.2 C395.5,427.3 397.5,424.5 399.6,422 C401.7,419.5 403.7,417.4 405.8,415.3 C407.9,413.2 410.1,411.1 412.2,409.4 C414.3,407.7 416.3,406.2 418.4,405.1 C420.5,404.1 422.8,403.4 424.9,403.1 C427,402.8 429.1,402.8 431.1,403.1 C433.1,403.4 435.9,404.7 436.8,405 L436.8,409.6" fill="none" stroke="#27489a" stroke-width="1.8"/>
<rect x="421.2" y="409.5" width="1.6" height="1.6" fill="#b3173f"/>
<rect x="401.2" y="404.2" width="4.3" height="4.3" fill="#45a852" stroke="#3a9e47" stroke-width="0.8"/>
<rect x="429.7" y="369.5" width="4.3" height="4.3" fill="#45a852" stroke="#3a9e47" stroke-width="0.8"/>
<rect x="458.8" y="357.6" width="4.3" height="4.3" fill="#45a852" stroke="#3a9e47" stroke-width="0.8"/>
<rect x="486.2" y="357.6" width="4.3" height="4.3" fill="#45a852" stroke="#3a9e47" stroke-width="0.8"/>
<rect x="514.6" y="361.8" width="4.3" height="4.3" fill="#45a852" stroke="#3a9e47" stroke-width="0.8"/>
<rect x="542" y="364.8" width="4.3" height="4.3" fill="#45a852" stroke="#3a9e47" stroke-width="0.8"/>
<rect x="569.2" y="367.8" width="4.3" height="4.3" fill="#45a852" stroke="#3a9e47" stroke-width="0.8"/>
<rect x="596.1" y="369.2" width="4.3" height="4.3" fill="#45a852" stroke="#3a9e47" stroke-width="0.8"/>
<rect x="623.1" y="370.2" width="4.3" height="4.3" fill="#45a852" stroke="#3a9e47" stroke-width="0.8"/>
<circle cx="374" cy="459.7" r="2.4" fill="#7d90c4" fill-opacity="0.35" stroke="#27489a" stroke-width="1.5"/>
<circle cx="380.5" cy="448.3" r="2.4" fill="#7d90c4" fill-opacity="0.35" stroke="#27489a" stroke-width="1.5"/>
<circle cx="386.9" cy="439.4" r="2.4" fill="#7d90c4" fill-opacity="0.35" stroke="#27489a" stroke-width="1.5"/>
<circle cx="393.4" cy="430.2" r="2.4" fill="#7d90c4" fill-opacity="0.35" stroke="#27489a" stroke-width="1.5"/>
<circle cx="399.6" cy="422" r="2.4" fill="#7d90c4" fill-opacity="0.35" stroke="#27489a" stroke-width="1.5"/>
<circle cx="405.8" cy="415.3" r="2.4" fill="#7d90c4" fill-opacity="0.35" stroke="#27489a" stroke-width="1.5"/>
<circle cx="412.2" cy="409.4" r="2.4" fill="#7d90c4" fill-opacity="0.35" stroke="#27489a" stroke-width="1.5"/>
<circle cx="418.4" cy="405.1" r="2.4" fill="#7d90c4" fill-opacity="0.35" stroke="#27489a" stroke-width="1.5"/>
<circle cx="424.9" cy="403.1" r="2.4" fill="#7d90c4" fill-opacity="0.35" stroke="#27489a" stroke-width="1.5"/>
<circle cx="431.1" cy="403.1" r="2.4" fill="#7d90c4" fill-opacity="0.35" stroke="#27489a" stroke-width="1.5"/>
<text x="512.3" y="485.5" font-size="12" text-anchor="middle" fill="#111" font-weight="normal" font-style="normal" style='font-family:"Liberation Serif",serif' >&#955; [-]</text>
<text transform="translate(357.6,394.5) rotate(-90)" font-size="11.5" text-anchor="middle" style='font-family:"Liberation Serif",serif'><tspan font-style="italic">&#963;</tspan> [MPa]</text>
<rect x="495.5" y="402.7" width="73.9" height="53.3" fill="#fff" stroke="#333" stroke-width="0.8"/>
<path d="M495.5,415.6 H569.4" stroke="#333" stroke-width="0.8"/>
<text x="513" y="413.1" font-size="13.3" text-anchor="start" fill="#111" font-weight="bold" font-style="normal" style='font-family:"Liberation Serif",serif' textLength="45.6" lengthAdjust="spacingAndGlyphs">&#952;=45 °C</text>
<path d="M497,422.6 H507" stroke="#3a9e47" stroke-width="1.5" stroke-dasharray="1.4,1.4"/>
<rect x="500" y="420.6" width="4" height="4" fill="#45a852" stroke="#3a9e47" stroke-width="0.8"/>
<text x="508.2" y="426.3" font-size="11.5" text-anchor="start" fill="#111" font-weight="normal" font-style="normal" style='font-family:"Liberation Serif",serif' >Longitudinal</text>
<path d="M497,435.9 H507" stroke="#b3173f" stroke-width="1.7" stroke-dasharray="4,2.5"/>
<text x="508.2" y="439.6" font-size="11.5" text-anchor="start" fill="#111" font-weight="normal" font-style="normal" style='font-family:"Liberation Serif",serif' >Transverse</text>
<path d="M497,449.2 H507" stroke="#27489a" stroke-width="1.7"/>
<circle cx="502" cy="449.2" r="2.8" fill="#7d90c4" fill-opacity="0.35" stroke="#27489a" stroke-width="1.5"/>
<text x="508.2" y="452.9" font-size="11.5" text-anchor="start" fill="#111" font-weight="normal" font-style="normal" style='font-family:"Liberation Serif",serif' >Oblique</text>
<rect x="66.1" y="542.2" width="15" height="91.5" fill="#ebebeb"/>
<rect x="66.1" y="648.2" width="15" height="211.9" fill="#ebebeb"/>
<text transform="translate(76.6,585.6) rotate(-90)" font-size="13.5" text-anchor="middle" fill="#111" style='font-family:"Liberation Serif",serif'>Inputs</text>
<text transform="translate(77.2,747.5) rotate(-90)" font-size="13.5" text-anchor="middle" fill="#111" style='font-family:"Liberation Serif",serif'>Outcomes</text>
<path d="M143.2,550.3 V578.9 H549.8" fill="none" stroke="#b4b4b4" stroke-width="1"/>
<path d="M143.2,556.1 h4" stroke="#b4b4b4" stroke-width="1"/>
<text x="141.5" y="561.1" font-size="13.8" text-anchor="end" fill="#222" font-weight="normal" font-style="normal" style='font-family:"Liberation Serif",serif' textLength="27" lengthAdjust="spacingAndGlyphs">187.5</text>
<path d="M143.2,556.1 H549.8" stroke="#d8382a" stroke-width="0.9"/>
<text transform="translate(109.6,563.3) rotate(-90)" font-size="15" text-anchor="middle" fill="#222" style='font-family:"Liberation Serif",serif'>E [V/m]</text>
<path d="M101.8,583.4 H109.4" stroke="#222" stroke-width="0.8"/>
<path d="M143.2,605.5 V635.1 H549.8" fill="none" stroke="#b4b4b4" stroke-width="1"/>
<text x="137.2" y="608.8" font-size="13.6" text-anchor="end" fill="#222" font-weight="normal" font-style="normal" style='font-family:"Liberation Serif",serif' textLength="19.2" lengthAdjust="spacingAndGlyphs">1.11</text>
<text x="134.6" y="637.7" font-size="13" text-anchor="end" fill="#222" font-weight="normal" font-style="normal" style='font-family:"Liberation Serif",serif' >1</text>
<path d="M432,634.8 L549.8,606" stroke="#d8382a" stroke-width="0.9"/>
<text transform="translate(110.5,614.5) rotate(-90)" font-size="15" text-anchor="middle" fill="#222" style='font-family:"Liberation Serif",serif'>&#955; [-]</text>
<path d="M143.2,654.5 V707 H549.8" fill="none" stroke="#b4b4b4" stroke-width="1"/>
<path d="M143.2,654.5 h4" stroke="#b4b4b4" stroke-width="1"/>
<text x="139.4" y="659.9" font-size="14" text-anchor="end" fill="#222" font-weight="normal" font-style="normal" style='font-family:"Liberation Serif",serif' >40</text>
<path d="M143.2,680.9 h4" stroke="#b4b4b4" stroke-width="1"/>
<text x="139.4" y="686.3" font-size="14" text-anchor="end" fill="#222" font-weight="normal" font-style="normal" style='font-family:"Liberation Serif",serif' >30</text>
<path d="M143.2,707 h4" stroke="#b4b4b4" stroke-width="1"/>
<text x="139.4" y="712.4" font-size="14" text-anchor="end" fill="#222" font-weight="normal" font-style="normal" style='font-family:"Liberation Serif",serif' >20</text>
<path d="M143.2,695.6 C148,693.9 162.3,688.5 172,685.5 C181.7,682.5 191.3,679.8 201.3,677.4 C211.3,675 221.8,673.1 232,671.4 C242.2,669.6 252.4,668.3 262.6,666.9 C272.8,665.5 282.8,664.3 293,663.2 C303.2,662.1 313.7,661.1 324,660.2 C334.3,659.3 344.8,658.5 355,657.8 C365.2,657.1 376,656.4 385.2,655.9 C394.4,655.4 402.8,654.9 410,654.6 C417.2,654.3 419.9,654.2 428.2,654.1 C436.5,654 447.8,654 460,654.3 C472.2,654.6 491.7,655.4 501.7,655.8 C511.7,656.2 514.5,656.2 520,656.7 C525.5,657.1 530,657.6 535,658.3 C540,659.1 547.3,660.6 549.8,661 L549.8,672 C547.3,670.8 540,666.8 535,664.9 C530,663 525.5,661.6 520,660.5 C514.5,659.5 511.7,659.3 501.7,658.8 C491.7,658.3 472.2,657.6 460,657.3 C447.8,657 436.5,657 428.2,657.1 C419.9,657.2 417.2,657.3 410,657.6 C402.8,657.9 394.4,658.4 385.2,658.9 C376,659.4 365.2,660.1 355,660.8 C344.8,661.5 334.3,662.3 324,663.2 C313.7,664.1 303.2,665.1 293,666.2 C282.8,667.3 272.8,668.5 262.6,669.9 C252.4,671.3 242.2,672.6 232,674.4 C221.8,676.1 211.3,678 201.3,680.4 C191.3,682.8 181.7,685.5 172,688.5 C162.3,691.5 148,696.9 143.2,698.6 Z" fill="#dcefdc" fill-opacity="0.9"/>
<path d="M143.2,697.1 C148,695.4 162.3,690 172,687 C181.7,684 191.3,681.2 201.3,678.9 C211.3,676.5 221.8,674.6 232,672.9 C242.2,671.1 252.4,669.8 262.6,668.4 C272.8,667 282.8,665.8 293,664.7 C303.2,663.6 313.7,662.6 324,661.7 C334.3,660.8 344.8,660 355,659.3 C365.2,658.6 376,657.9 385.2,657.4 C394.4,656.9 402.8,656.4 410,656.1 C417.2,655.8 419.9,655.7 428.2,655.6 C436.5,655.5 447.8,655.5 460,655.8 C472.2,656.1 491.7,656.8 501.7,657.3 C511.7,657.8 514.5,657.9 520,658.6 C525.5,659.3 530,660.3 535,661.6 C540,662.9 547.3,665.7 549.8,666.5" fill="none" stroke="#58ae62" stroke-width="1"/>
<text transform="translate(110.8,680.3) rotate(-90)" font-size="15" text-anchor="middle" fill="#222" style='font-family:"Liberation Serif",serif'><tspan font-style="italic">&#952;</tspan> [ºC]</text>
<path d="M143.2,725.8 V777 H549.8" fill="none" stroke="#b4b4b4" stroke-width="1"/>
<path d="M143.2,742.2 h4" stroke="#b4b4b4" stroke-width="1"/>
<text x="139.4" y="747.6" font-size="14" text-anchor="end" fill="#222" font-weight="normal" font-style="normal" style='font-family:"Liberation Serif",serif' >0.3</text>
<path d="M143.2,760 h4" stroke="#b4b4b4" stroke-width="1"/>
<text x="139.4" y="765.4" font-size="14" text-anchor="end" fill="#222" font-weight="normal" font-style="normal" style='font-family:"Liberation Serif",serif' >0.2</text>
<path d="M143.2,777 h4" stroke="#b4b4b4" stroke-width="1"/>
<text x="139.4" y="782.4" font-size="14" text-anchor="end" fill="#222" font-weight="normal" font-style="normal" style='font-family:"Liberation Serif",serif' >0.1</text>
<path d="M483,773 C492,772 495,760 497,740 L499,724.5 L527.5,724.5 L527.5,760 C526,770 515,773 500,773.5 Z" fill="#dcefdc" fill-opacity="0.9"/>
<path d="M143.2,774.4 C163.1,773.9 222.3,772.5 262.6,771.6 C302.9,770.7 356.6,769.7 385.2,769.2 C413.8,768.7 424.4,768.9 434.3,768.4 C444.2,767.9 441.1,766 444.7,766 C448.3,766 450.9,767.5 455.8,768.2 C460.7,768.9 468.5,770 474.1,770.2 C479.7,770.4 485.4,770.2 489.5,769.2 C493.6,768.2 495.9,767.4 498.7,764 C501.4,760.6 504.2,754.8 506,748.7 C507.8,742.6 509.1,730.9 509.7,727.3" fill="none" stroke="#2f9a3e" stroke-width="1.6" stroke-dasharray="2,2.3"/>
<text transform="translate(111.2,751.5) rotate(-90)" font-size="15" text-anchor="middle" fill="#222" style='font-family:"Liberation Serif",serif'><tspan font-style="italic">&#961;</tspan><tspan font-size="11" dy="3">eff</tspan><tspan dy="-3"> [&#937;·m]</tspan></text>
<path d="M143.2,795.2 V847.6 H549.8" fill="none" stroke="#b4b4b4" stroke-width="1"/>
<path d="M143.2,803.5 h4" stroke="#b4b4b4" stroke-width="1"/>
<text x="139.4" y="808.9" font-size="14" text-anchor="end" fill="#222" font-weight="normal" font-style="normal" style='font-family:"Liberation Serif",serif' >20</text>
<path d="M143.2,825.4 h4" stroke="#b4b4b4" stroke-width="1"/>
<text x="139.4" y="830.8" font-size="14" text-anchor="end" fill="#222" font-weight="normal" font-style="normal" style='font-family:"Liberation Serif",serif' >10</text>
<path d="M143.2,847.6 h4" stroke="#b4b4b4" stroke-width="1"/>
<text x="139.4" y="853" font-size="14" text-anchor="end" fill="#222" font-weight="normal" font-style="normal" style='font-family:"Liberation Serif",serif' >0</text>
<path d="M143.2,847.6 v-4" stroke="#b4b4b4" stroke-width="1"/>
<text x="143.2" y="863.5" font-size="14" text-anchor="middle" fill="#222" font-weight="normal" font-style="normal" style='font-family:"Liberation Serif",serif' >0</text>
<path d="M201.3,847.6 v-4" stroke="#b4b4b4" stroke-width="1"/>
<text x="201.3" y="863.5" font-size="14" text-anchor="middle" fill="#222" font-weight="normal" font-style="normal" style='font-family:"Liberation Serif",serif' >1</text>
<path d="M259.4,847.6 v-4" stroke="#b4b4b4" stroke-width="1"/>
<text x="259.4" y="863.5" font-size="14" text-anchor="middle" fill="#222" font-weight="normal" font-style="normal" style='font-family:"Liberation Serif",serif' >2</text>
<path d="M317.4,847.6 v-4" stroke="#b4b4b4" stroke-width="1"/>
<text x="317.4" y="863.5" font-size="14" text-anchor="middle" fill="#222" font-weight="normal" font-style="normal" style='font-family:"Liberation Serif",serif' >3</text>
<path d="M375.5,847.6 v-4" stroke="#b4b4b4" stroke-width="1"/>
<text x="375.5" y="863.5" font-size="14" text-anchor="middle" fill="#222" font-weight="normal" font-style="normal" style='font-family:"Liberation Serif",serif' >4</text>
<path d="M433.6,847.6 v-4" stroke="#b4b4b4" stroke-width="1"/>
<text x="433.6" y="863.5" font-size="14" text-anchor="middle" fill="#222" font-weight="normal" font-style="normal" style='font-family:"Liberation Serif",serif' >5</text>
<path d="M491.7,847.6 v-4" stroke="#b4b4b4" stroke-width="1"/>
<text x="491.7" y="863.5" font-size="14" text-anchor="middle" fill="#222" font-weight="normal" font-style="normal" style='font-family:"Liberation Serif",serif' >6</text>
<path d="M549.8,847.6 v-4" stroke="#b4b4b4" stroke-width="1"/>
<text x="549.8" y="863.5" font-size="14" text-anchor="middle" fill="#222" font-weight="normal" font-style="normal" style='font-family:"Liberation Serif",serif' >7</text>
<text x="346.8" y="881" font-size="15" text-anchor="middle" fill="#222" font-weight="normal" font-style="normal" style='font-family:"Liberation Serif",serif' >t [min]</text>
<path d="M479.8,803.1 C482,803.8 488.6,806.3 493,807.1 C497.4,807.9 502.2,807.3 506.1,808 C510,808.7 513.8,810.6 516.6,811.2 C519.5,811.8 521,811.4 523.2,811.4 C525.4,811.4 526.9,811.9 529.8,811.2 C532.6,810.6 537,808.5 540.3,807.5 C543.6,806.5 548,805.8 549.5,805.4 L549.5,812.4 C548,812.8 543.6,813.5 540.3,814.5 C537,815.5 532.6,817.6 529.8,818.2 C526.9,818.9 525.4,818.4 523.2,818.4 C521,818.4 519.5,818.8 516.6,818.2 C513.8,817.6 510,816.9 506.1,815 C502.2,813.1 497.4,809.1 493,807.1 C488.6,805.1 482,803.8 479.8,803.1 Z" fill="#dcefdc" fill-opacity="0.9"/>
<path d="M433.9,847.8 C435,844.4 438,833.8 440.4,827.3 C442.8,820.8 445.7,813.6 448.3,808.9 C450.9,804.2 453.6,801 456.2,798.9 C458.8,796.8 461.2,796.3 463.6,796.3 C466,796.3 467.9,797.8 470.6,798.9 C473.3,800 476.1,801.7 479.8,803.1 C483.5,804.5 488.6,805.7 493,807.1 C497.4,808.5 502.2,810.2 506.1,811.5 C510,812.8 513.8,814.1 516.6,814.7 C519.5,815.3 521,814.9 523.2,814.9 C525.4,814.9 526.9,815.4 529.8,814.7 C532.6,814.1 537,812 540.3,811 C543.6,810 548,809.2 549.5,808.9" fill="none" stroke="#2f9a3e" stroke-width="1.5"/>
<text transform="translate(110.8,821) rotate(-90)" font-size="15" text-anchor="middle" fill="#222" style='font-family:"Liberation Serif",serif'><tspan font-style="italic">&#963;</tspan> [MPa]</text>
<defs><radialGradient id="hot1" cx="0.3" cy="0.28" r="0.9"><stop offset="0" stop-color="#fffbe0"/><stop offset="0.15" stop-color="#fcc830"/><stop offset="0.5" stop-color="#f68a10"/><stop offset="0.85" stop-color="#e8501a"/><stop offset="1" stop-color="#c02080"/></radialGradient><linearGradient id="hot2" x1="0" y1="0" x2="0" y2="1"><stop offset="0" stop-color="#f07010"/><stop offset="0.3" stop-color="#f08a14"/><stop offset="0.7" stop-color="#e84830"/><stop offset="1" stop-color="#c81890"/></linearGradient><radialGradient id="hot3" cx="0.5" cy="0.35" r="0.75"><stop offset="0" stop-color="#f8a810"/><stop offset="0.5" stop-color="#f48a10"/><stop offset="1" stop-color="#e84a14"/></radialGradient><radialGradient id="purp" cx="0.5" cy="0.5" r="0.5"><stop offset="0" stop-color="#3d0a90"/><stop offset="0.9" stop-color="#3a0a8c"/><stop offset="1" stop-color="#50109a"/></radialGradient></defs>
<path d="M484.5,709 L510,694 L513.6,723.4 Z" fill="#d8eff8"/>
<path d="M530.4,784.5 L562.1,779.5 L549.9,809.1 Z" fill="#d8eff8"/>
<path d="M406,834 L432.4,816 L434.2,849.3 Z" fill="#d8eff8"/>
<defs><filter id="glow" x="-50%" y="-50%" width="200%" height="200%"><feGaussianBlur stdDeviation="1.3"/></filter></defs>
<clipPath id="cc1"><circle cx="489.1" cy="688.9" r="21.2"/></clipPath>
<g clip-path="url(#cc1)">
<circle cx="489.1" cy="688.9" r="21.2" fill="url(#purp)"/>
<rect x="482.3" y="672.3" width="12.4" height="36.7" fill="#a018a8" filter="url(#glow)" opacity="0.6"/>
<rect x="483.3" y="676.3" width="10.4" height="28.7" fill="url(#hot1)"/>
</g>
<clipPath id="cc2"><circle cx="544" cy="767.7" r="21.2"/></clipPath>
<g clip-path="url(#cc2)">
<circle cx="544" cy="767.7" r="21.2" fill="url(#purp)"/>
<rect x="537.1" y="747.9" width="13.2" height="42.2" fill="#a018a8" filter="url(#glow)" opacity="0.6"/>
<path d="M538.1,751.9 h11.2 l-1,15.4 l1,18.8 h-11.2 l1,-18.8 Z" fill="url(#hot2)"/>
</g>
<clipPath id="cc3"><circle cx="411.3" cy="813.3" r="21.1"/></clipPath>
<g clip-path="url(#cc3)">
<circle cx="411.3" cy="813.3" r="21.1" fill="url(#purp)"/>
<rect x="404.1" y="796.9" width="12.8" height="34.5" fill="#a018a8" filter="url(#glow)" opacity="0.6"/>
<rect x="405.1" y="800.9" width="10.8" height="26.5" fill="url(#hot3)"/>
<rect x="405.3" y="831.3" width="10.5" height="4" fill="#ee5020"/>
</g>
<defs><linearGradient id="cmap" x1="0" y1="1" x2="0" y2="0"><stop offset="0" stop-color="#000004"/><stop offset="0.08" stop-color="#0d0829"/><stop offset="0.18" stop-color="#281b5e"/><stop offset="0.28" stop-color="#5a1a9c"/><stop offset="0.38" stop-color="#8c1c98"/><stop offset="0.46" stop-color="#c02a7c"/><stop offset="0.55" stop-color="#e03e5a"/><stop offset="0.63" stop-color="#ec6a3a"/><stop offset="0.7" stop-color="#f29430"/><stop offset="0.76" stop-color="#f6b62c"/><stop offset="0.84" stop-color="#f9d23e"/><stop offset="0.92" stop-color="#fbeea8"/><stop offset="1" stop-color="#fffffe"/></linearGradient></defs>
<rect x="605.4" y="674.3" width="17.7" height="170.9" fill="url(#cmap)" stroke="#222" stroke-width="0.7"/>
<path d="M618.6,674.3 H626" stroke="#222" stroke-width="0.8"/>
<text x="629.5" y="678.6" font-size="12" text-anchor="start" fill="#222" font-weight="normal" font-style="normal" style='font-family:"Liberation Serif",serif' >55</text>
<path d="M618.6,714.6 H626" stroke="#222" stroke-width="0.8"/>
<text x="629.5" y="718.9" font-size="12" text-anchor="start" fill="#222" font-weight="normal" font-style="normal" style='font-family:"Liberation Serif",serif' >47</text>
<path d="M618.6,753.9 H626" stroke="#222" stroke-width="0.8"/>
<text x="629.5" y="758.2" font-size="12" text-anchor="start" fill="#222" font-weight="normal" font-style="normal" style='font-family:"Liberation Serif",serif' >38</text>
<path d="M618.6,793.7 H626" stroke="#222" stroke-width="0.8"/>
<text x="629.5" y="798" font-size="12" text-anchor="start" fill="#222" font-weight="normal" font-style="normal" style='font-family:"Liberation Serif",serif' >29</text>
<path d="M618.6,845.2 H626" stroke="#222" stroke-width="0.8"/>
<text x="629.5" y="849.5" font-size="12" text-anchor="start" fill="#222" font-weight="normal" font-style="normal" style='font-family:"Liberation Serif",serif' >15</text>
<text x="599" y="660.8" font-size="13.6" fill="#222" style='font-family:"Liberation Serif",serif'><tspan font-style="italic">&#952;</tspan> [ºC]</text>
<defs>
<linearGradient id="blkf" x1="0" y1="0" x2="1" y2="0"><stop offset="0" stop-color="#8c8c8c"/><stop offset="0.5" stop-color="#9a9a9a"/><stop offset="1" stop-color="#8a8a8a"/></linearGradient>
<pattern id="hatch" width="3.2" height="3.2" patternUnits="userSpaceOnUse" patternTransform="rotate(38)"><rect width="3.2" height="3.2" fill="url(#blkf)"/><rect width="1.1" height="3.2" fill="#c4c4c4" opacity="0.75"/></pattern>
<linearGradient id="blkt" x1="0" y1="1" x2="0.3" y2="0"><stop offset="0" stop-color="#a8a8a8"/><stop offset="1" stop-color="#e4e4e4"/></linearGradient>
<linearGradient id="blkr" x1="0" y1="0" x2="1" y2="0"><stop offset="0" stop-color="#b8b8b8"/><stop offset="0.4" stop-color="#f4f4f4"/><stop offset="0.65" stop-color="#e0e0e0"/><stop offset="1" stop-color="#7a7a7a"/></linearGradient>
<linearGradient id="tube" x1="0" y1="0" x2="1" y2="0"><stop offset="0" stop-color="#0e0818"/><stop offset="0.25" stop-color="#2a2430"/><stop offset="0.55" stop-color="#5e5a4a"/><stop offset="0.8" stop-color="#2c2826"/><stop offset="1" stop-color="#0a0612"/></linearGradient>
<pattern id="gold" width="2.3" height="2.1" patternUnits="userSpaceOnUse" patternTransform="rotate(-42)"><rect width="2.3" height="2.1" fill="#d4a04a"/><circle cx="1.15" cy="1.05" r="0.72" fill="#fbf0d8"/></pattern>
<linearGradient id="goldr" x1="0" y1="0" x2="1" y2="0"><stop offset="0" stop-color="#c89a38"/><stop offset="0.5" stop-color="#f0d040"/><stop offset="1" stop-color="#b08020"/></linearGradient>
<pattern id="grn" width="7" height="7" patternUnits="userSpaceOnUse" patternTransform="rotate(-31)"><rect width="7" height="7" fill="#0d4a12"/><rect y="0.8" width="7" height="2.6" fill="#2fa02f"/><rect y="1.6" width="7" height="0.9" fill="#8ee07a"/></pattern>
<pattern id="red" width="6" height="6" patternUnits="userSpaceOnUse" patternTransform="rotate(-28)"><rect width="6" height="6" fill="#8a1038"/><rect y="1" width="6" height="2.8" fill="#c41e58"/><rect y="2" width="6" height="0.8" fill="#f070a0"/></pattern>
<pattern id="blu" width="5" height="5" patternUnits="userSpaceOnUse" patternTransform="rotate(70)"><rect width="5" height="5" fill="#1a4aa8"/><rect y="0.8" width="5" height="2" fill="#3c7ee0"/><rect y="1.4" width="5" height="0.7" fill="#9cc8ff"/></pattern>
<linearGradient id="gs" x1="0" y1="0" x2="1" y2="0"><stop offset="0" stop-color="#0a3a0e"/><stop offset="0.3" stop-color="#1f8a26"/><stop offset="0.6" stop-color="#5ed050"/><stop offset="0.8" stop-color="#2a9a2a"/><stop offset="1" stop-color="#083008"/></linearGradient>
<linearGradient id="gf" x1="0" y1="0" x2="1" y2="0"><stop offset="0" stop-color="#0a2a0c"/><stop offset="0.2" stop-color="#2c9a2c"/><stop offset="0.55" stop-color="#6cd858"/><stop offset="0.85" stop-color="#1e7a20"/><stop offset="1" stop-color="#0a2a0c"/></linearGradient>
<linearGradient id="rs" x1="0" y1="0" x2="1" y2="0"><stop offset="0" stop-color="#6a0a2a"/><stop offset="0.35" stop-color="#b8184e"/><stop offset="0.6" stop-color="#f06aa0"/><stop offset="0.8" stop-color="#c01c58"/><stop offset="1" stop-color="#6a0a2a"/></linearGradient>
<marker id="arr" viewBox="0 0 6 6" refX="5" refY="3" markerWidth="4.2" markerHeight="4.6" orient="auto-start-reverse" markerUnits="userSpaceOnUse"><path d="M0,0 L6,3 L0,6 Z"/></marker>
</defs>
<text x="48.2" y="44.2" font-size="13.5" text-anchor="start" fill="#27a03e" font-weight="normal" font-style="normal" style='font-family:"Liberation Serif",serif' >Longitudinal</text>
<rect x="38.5" y="82.3" width="75.5" height="28.6" fill="url(#hatch)"/>
<path d="M38.5,82.3 L50,76.6 L125.5,76.6 L114,82.3 Z" fill="url(#blkt)"/>
<path d="M114,82.3 L125.5,76.6 L125.5,104.2 L114,110.9 Z" fill="url(#blkr)"/>
<path d="M51.9,110.9 L105.9,110.9 L105.9,118.9 L80.4,134.5 L72.3,134.5 L51.9,118.9 Z" fill="url(#gold)"/>
<path d="M99.9,110.9 L105.9,110.9 L105.9,118.9 L99.9,120.9 Z" fill="url(#goldr)" opacity="0.9"/>
<pattern id="gstr" width="8.75" height="300" x="3.75" y="0" patternUnits="userSpaceOnUse" patternTransform="skewX(-63.8)"><rect width="8.75" height="300" fill="url(#gs)"/></pattern>
<pattern id="gfr" width="8.75" height="20" x="72.3" y="0" patternUnits="userSpaceOnUse"><rect width="8.75" height="20" fill="url(#gf)"/></pattern>
<path d="M72,134.3 L123.4,109 L157.7,109 L157.7,117.5 L107.3,142.3 L72.3,142.3 Z" fill="#0c3a10"/>
<path d="M72.3,134.3 L123.7,109 L158.7,109 L107.3,134.3 Z" fill="url(#gstr)"/>
<rect x="72.3" y="134.3" width="35" height="8" fill="url(#gfr)"/>
<path d="M107.3,134.3 L158.7,109 L157.7,117.5 L107.3,142.3 Z" fill="#0e4a12"/>
<path d="M107.3,138 L157.7,113.3" stroke="#2a8a2a" stroke-width="1"/>
<path d="M75,133.5 L124.5,109.2" stroke="#3a3a34" stroke-width="2"/>
<path d="M69.4,62.4 L82.6,62.4 L82.6,113.8 L80.4,116.8 L80.4,134.4 L72.3,134.4 L72.3,116.8 L69.4,113.8 Z" fill="url(#tube)"/>
<ellipse cx="76" cy="62.4" rx="6.6" ry="1.2" fill="#3a3440"/>
<path d="M86.8,54.5 V68.8" stroke="#111" stroke-width="0.8" marker-end="url(#arr)"/>
<text x="91.3" y="64.9" font-size="10.8" text-anchor="start" fill="#111" font-weight="normal" font-style="normal" style='font-family:"Liberation Serif",serif' >Filament input</text>
<text x="0" y="141.3" font-size="11.7" text-anchor="start" fill="#27a03e" font-weight="normal" font-style="normal" style='font-family:"Liberation Serif",serif' >Printing</text>
<text x="0" y="154.2" font-size="11.7" text-anchor="start" fill="#27a03e" font-weight="normal" font-style="normal" style='font-family:"Liberation Serif",serif' >direction</text>
<path d="M43.4,161.7 L43.4,145.4" stroke="#111" stroke-width="1"/>
<path d="M43.4,140.2 L46,145.4 L40.8,145.4 Z" fill="#111"/>
<path d="M43.4,161.7 L60.3,161.7" stroke="#111" stroke-width="1"/>
<path d="M65.5,161.7 L60.3,164.3 L60.3,159.1 Z" fill="#111"/>
<path d="M43.4,161.7 L25.7,170.1" stroke="#27a03e" stroke-width="1.6"/>
<path d="M21,172.3 L24.6,167.7 L26.8,172.4 Z" fill="#27a03e"/>
<text x="44.3" y="139.5" font-size="9" font-weight="bold" fill="#111" style='font-family:"Liberation Serif",serif'>e<tspan font-size="5.58" dy="2">3</tspan></text>
<path d="M45.1,133.9 l1.3,-1.8 l1.3,1.8" fill="none" stroke="#111" stroke-width="0.8"/>
<text x="60.6" y="158.8" font-size="9" font-weight="bold" fill="#111" style='font-family:"Liberation Serif",serif'>e<tspan font-size="5.58" dy="2">2</tspan></text>
<path d="M61.4,153.2 l1.3,-1.8 l1.3,1.8" fill="none" stroke="#111" stroke-width="0.8"/>
<text x="15.2" y="166.3" font-size="9" font-weight="bold" fill="#27a03e" style='font-family:"Liberation Serif",serif'>e<tspan font-size="5.58" dy="2">1</tspan></text>
<path d="M16,160.7 l1.3,-1.8 l1.3,1.8" fill="none" stroke="#27a03e" stroke-width="0.8"/>
<text x="200" y="42.5" font-size="13.5" text-anchor="start" fill="#b5174a" font-weight="normal" font-style="normal" style='font-family:"Liberation Serif",serif' >Transverse</text>
<rect x="185.3" y="78.9" width="81.4" height="31.5" fill="url(#hatch)"/>
<path d="M185.3,78.9 L197.6,74.3 L279,74.3 L266.7,78.9 Z" fill="url(#blkt)"/>
<path d="M266.7,78.9 L279,74.3 L279,104.8 L266.7,110.4 Z" fill="url(#blkr)"/>
<linearGradient id="rsv" x1="0" y1="0" x2="0" y2="1"><stop offset="0" stop-color="#68072a"/><stop offset="0.35" stop-color="#b41244"/><stop offset="0.6" stop-color="#e8508e"/><stop offset="0.85" stop-color="#ac1042"/><stop offset="1" stop-color="#68072a"/></linearGradient>
<pattern id="rstr" width="300" height="4.02" x="0" y="114.5" patternUnits="userSpaceOnUse"><rect width="300" height="4.02" fill="url(#rsv)"/></pattern>
<path d="M190.1,138.6 L253.6,114.5 L277.7,114.5 L277.7,119.6 L228.8,144.4 L190.1,143.7 Z" fill="#8a1038"/>
<path d="M190.1,138.6 L253.6,114.5 L277.7,114.5 L228.8,139.3 L190.1,139.3 Z" fill="url(#rstr)"/>
<path d="M228.8,139.3 L277.7,114.5 L277.7,119.6 L228.8,144.4 Z" fill="#a0184a"/>
<path d="M190.1,141.3 L228.8,141.8" stroke="#e04888" stroke-width="1"/>
<path d="M201,110.4 L257,110.4 L257,117 L232.6,135.8 L221,135.8 L201,117 Z" fill="url(#gold)"/>
<path d="M251,110.4 L257,110.4 L257,117 L251,119 Z" fill="url(#goldr)" opacity="0.9"/>
<path d="M218.2,57.9 L232.6,57.9 L232.6,114.8 L229.4,117.8 L229.4,136.7 L221.7,136.7 L221.7,117.8 L218.2,114.8 Z" fill="url(#tube)"/>
<ellipse cx="225.4" cy="57.9" rx="7.2" ry="1.2" fill="#3a3440"/>
<path d="M190.1,136.4 L196,134.2 L234,134.2 L233.2,136.4 L233.2,140.8 L190.1,140.8 Z" fill="#24201e"/>
<path d="M196,134.2 L234,134.2 L233.2,136.4 L190.1,136.4 Z" fill="#55524a"/>
<path d="M236.9,51 V66" stroke="#111" stroke-width="0.8" marker-end="url(#arr)"/>
<text x="243.9" y="62.6" font-size="10.8" text-anchor="start" fill="#111" font-weight="normal" font-style="normal" style='font-family:"Liberation Serif",serif' >Filament input</text>
<path d="M277.7,153.1 L277.7,137" stroke="#111" stroke-width="1"/>
<path d="M277.7,131.8 L280.3,137 L275.1,137 Z" fill="#111"/>
<path d="M277.7,153.1 L294.8,153.1" stroke="#b5174a" stroke-width="1.6"/>
<path d="M300,153.1 L294.8,155.7 L294.8,150.5 Z" fill="#b5174a"/>
<path d="M277.7,153.1 L260.1,162.4" stroke="#111" stroke-width="1"/>
<path d="M255.5,164.8 L258.9,160.1 L261.3,164.7 Z" fill="#111"/>
<text x="279.5" y="129.5" font-size="9" font-weight="bold" fill="#111" style='font-family:"Liberation Serif",serif'>e<tspan font-size="5.58" dy="2">3</tspan></text>
<path d="M280.3,123.9 l1.3,-1.8 l1.3,1.8" fill="none" stroke="#111" stroke-width="0.8"/>
<text x="295.5" y="149" font-size="9" font-weight="bold" fill="#b5174a" style='font-family:"Liberation Serif",serif'>e<tspan font-size="5.58" dy="2">2</tspan></text>
<path d="M296.3,143.4 l1.3,-1.8 l1.3,1.8" fill="none" stroke="#b5174a" stroke-width="0.8"/>
<text x="253.5" y="157.3" font-size="9" font-weight="bold" fill="#111" style='font-family:"Liberation Serif",serif'>e<tspan font-size="5.58" dy="2">1</tspan></text>
<path d="M254.3,151.7 l1.3,-1.8 l1.3,1.8" fill="none" stroke="#111" stroke-width="0.8"/>
<text x="267.5" y="168.5" font-size="11.7" text-anchor="start" fill="#b5174a" font-weight="normal" font-style="normal" style='font-family:"Liberation Serif",serif' >Printing</text>
<text x="267.5" y="181.2" font-size="11.7" text-anchor="start" fill="#b5174a" font-weight="normal" font-style="normal" style='font-family:"Liberation Serif",serif' >direction</text>
<text x="132" y="157.1" font-size="13.5" text-anchor="start" fill="#2a55a5" font-weight="normal" font-style="normal" style='font-family:"Liberation Serif",serif' >Oblique</text>
<rect x="111.1" y="190.7" width="81.4" height="30.5" fill="url(#hatch)"/>
<path d="M111.1,190.7 L122.6,185.6 L204,185.6 L192.5,190.7 Z" fill="url(#blkt)"/>
<path d="M192.5,190.7 L204,185.6 L204,215.1 L192.5,221.2 Z" fill="url(#blkr)"/>
<path d="M125.9,221.2 L183.7,221.2 L183.7,229.2 L158,246.1 L144.3,246.1 L125.9,229.2 Z" fill="url(#gold)"/>
<path d="M177.7,221.2 L183.7,221.2 L183.7,229.2 L177.7,231.2 Z" fill="url(#goldr)" opacity="0.9"/>
<path d="M154.8,267 L158,250 L205.4,238.6 L205.4,243.7 Z" fill="url(#blu)"/>
<path d="M154.8,267 L205.4,243.7 L205.4,241.5 L156,264 Z" fill="#0e2e70" opacity="0.45"/>
<path d="M144.3,170.6 L158.8,170.6 L158.8,224 L156,227 L156,246 L162.5,261.5 L155,265.5 L147.5,249 L148,227 L144.3,224 Z" fill="url(#tube)"/>
<ellipse cx="151.5" cy="170.6" rx="7.2" ry="1.2" fill="#3a3440"/>
<path d="M163,163.5 V177.5" stroke="#111" stroke-width="0.8" marker-end="url(#arr)"/>
<text x="168.8" y="174.2" font-size="10.8" text-anchor="start" fill="#111" font-weight="normal" font-style="normal" style='font-family:"Liberation Serif",serif' >Filament input</text>
<path d="M85.5,246.4 L85.5,228.7" stroke="#111" stroke-width="1"/>
<path d="M85.5,223.5 L88.1,228.7 L82.9,228.7 Z" fill="#111"/>
<path d="M85.5,246.4 L103.6,246.4" stroke="#111" stroke-width="1"/>
<path d="M108.8,246.4 L103.6,249 L103.6,243.8 Z" fill="#111"/>
<path d="M85.5,246.4 L65.9,255.2" stroke="#111" stroke-width="1"/>
<path d="M61.2,257.3 L64.9,252.8 L67,257.5 Z" fill="#111"/>
<path d="M85.5,246.4 L90.4,259.3" stroke="#2a55a5" stroke-width="1.6"/>
<path d="M92.3,264.2 L88,260.3 L92.9,258.4 Z" fill="#2a55a5"/>
<path d="M74,251.5 A13,13 0 0 0 90.5,258.5" fill="none" stroke="#111" stroke-width="0.7"/>
<text x="72" y="266.8" font-size="9" text-anchor="start" fill="#111" font-weight="normal" font-style="normal" style='font-family:"Liberation Serif",serif' >45º</text>
<text x="86.5" y="220.5" font-size="8" font-weight="bold" fill="#111" style='font-family:"Liberation Serif",serif'>e<tspan font-size="4.96" dy="2">3</tspan></text>
<path d="M87.3,215.5 l1.2,-1.6 l1.2,1.6" fill="none" stroke="#111" stroke-width="0.8"/>
<text x="103.5" y="240" font-size="8" font-weight="bold" fill="#111" style='font-family:"Liberation Serif",serif'>e<tspan font-size="4.96" dy="2">2</tspan></text>
<path d="M104.3,235 l1.2,-1.6 l1.2,1.6" fill="none" stroke="#111" stroke-width="0.8"/>
<text x="60" y="246" font-size="8" font-weight="bold" fill="#111" style='font-family:"Liberation Serif",serif'>e<tspan font-size="4.96" dy="2">1</tspan></text>
<path d="M60.8,241 l1.2,-1.6 l1.2,1.6" fill="none" stroke="#111" stroke-width="0.8"/>
<text x="96.5" y="261.4" font-size="11.7" text-anchor="start" fill="#2a55a5" font-weight="normal" font-style="normal" style='font-family:"Liberation Serif",serif' >Printing</text>
<text x="96.5" y="274.5" font-size="11.7" text-anchor="start" fill="#2a55a5" font-weight="normal" font-style="normal" style='font-family:"Liberation Serif",serif' >direction</text>
<defs>
<linearGradient id="psu" x1="0" y1="0" x2="1" y2="0"><stop offset="0" stop-color="#3a3a3a"/><stop offset="0.15" stop-color="#9a9a9a"/><stop offset="0.5" stop-color="#d8d8d8"/><stop offset="0.85" stop-color="#8a8a8a"/><stop offset="1" stop-color="#333"/></linearGradient>
<linearGradient id="psu2" x1="0" y1="0" x2="1" y2="0"><stop offset="0" stop-color="#222"/><stop offset="0.2" stop-color="#5a5a5a"/><stop offset="0.5" stop-color="#3a3a3a"/><stop offset="0.85" stop-color="#5a5a5a"/><stop offset="1" stop-color="#1a1a1a"/></linearGradient>
<linearGradient id="chamb" x1="0" y1="0" x2="1" y2="0"><stop offset="0" stop-color="#3c3c3c"/><stop offset="0.3" stop-color="#8a8a8a"/><stop offset="0.62" stop-color="#f4f4f4"/><stop offset="0.85" stop-color="#9a9a9a"/><stop offset="1" stop-color="#3a3a3a"/></linearGradient>
<linearGradient id="cam" x1="0" y1="0" x2="1" y2="0"><stop offset="0" stop-color="#d88a10"/><stop offset="0.5" stop-color="#f8b820"/><stop offset="1" stop-color="#d08a10"/></linearGradient>
</defs>
<path d="M593.4,233.2 V204 A27.2,26.6 0 0 1 620.6,177.4 H677.9 V233.2" fill="#fff" stroke="#222" stroke-width="0.8"/>
<path d="M637,190 L651,189.5 L651,203.5 L637,208 Z" fill="#cdeaf5"/>
<rect x="601.5" y="190.5" width="20.5" height="29.8" rx="2.5" fill="url(#psu2)"/>
<rect x="603.6" y="191.5" width="16.3" height="19" rx="1" fill="#111"/>
<rect x="604.5" y="192" width="14" height="2.4" fill="#c03090"/>
<path d="M605,199 h6 M605,205.5 h9" stroke="#2db34a" stroke-width="1.3"/>
<circle cx="616" cy="214.6" r="2.8" fill="#eee"/>
<circle cx="606.1" cy="215" r="1.1" fill="#e02020"/><circle cx="610" cy="215" r="1.1" fill="#20a0e0"/>
<path d="M606.1,215.5 V223.1 H624.5 V187.7 H630.5" fill="none" stroke="#e0407a" stroke-width="0.9"/>
<path d="M610,215.5 V222.1 H624.1 V214.6 H630.5" fill="none" stroke="#30a8e0" stroke-width="0.9"/>
<rect x="630.5" y="187" width="6.4" height="7.8" fill="#d81e6a"/>
<rect x="630.5" y="207.1" width="6.4" height="8.2" fill="#1e9ed8"/>
<rect x="632.4" y="189.5" width="2.6" height="23.5" fill="#222"/><rect x="633.2" y="190" width="1" height="22.5" fill="#aaa"/>
<text x="639.5" y="185.5" font-size="5.5" text-anchor="start" fill="#d81e6a" font-weight="bold" font-style="normal" style='font-family:"Liberation Serif",serif' >V<tspan font-size="4" dy="-1">+</tspan></text>
<text x="640.5" y="214.5" font-size="5.5" text-anchor="start" fill="#1e9ed8" font-weight="bold" font-style="normal" style='font-family:"Liberation Serif",serif' >V<tspan font-size="4" dy="-1">-</tspan></text>
<path d="M656.5,205 L667,205 L671.5,223 L671.8,228.6 L663.2,229 L658.3,214 Z" fill="#1c1a18"/>
<path d="M658,212.5 L661,212.3 L663,221 L660.2,221.2 Z" fill="#f0b020"/>
<path d="M663,223.6 L671,223.2 L672,228.6 L663.6,229 Z" fill="#f2b01e"/>
<path d="M651.5,189 Q652,185.8 655,185.8 L657,186 L657,205.5 L654,205.5 Q651.5,205 651.5,202 Z" fill="#222"/>
<path d="M655,190.5 Q655,187.6 658,187.6 L668.5,188 Q672.2,188.4 672.2,192 L672.2,204 Q672.2,208 668.5,208 L658.5,207.6 Q655,207.2 655,203.6 Z" fill="url(#cam)"/>
<rect x="659" y="190.4" width="10.8" height="9.8" rx="0.8" fill="#2a2a2a"/>
<rect x="659.8" y="191.2" width="9.3" height="8.2" fill="#c010b0"/>
<rect x="663.6" y="193" width="1.4" height="4.4" fill="#e060d0"/>
<rect x="661.8" y="200.6" width="8.3" height="5.2" rx="1.5" fill="#4a5868"/>
<path d="M233.5,329.5 V367.4 A47.1,58.8 0 0 0 280.6,426.2 H312.4 V329.5 Z" fill="#fff" stroke="#222" stroke-width="0.8"/>
<rect x="241.8" y="353.6" width="22.7" height="34.8" rx="3" fill="url(#psu)"/>
<rect x="243.8" y="358.5" width="19" height="20" rx="1.5" fill="#151515"/>
<rect x="244.5" y="354.8" width="17.5" height="2.5" fill="#d040a0"/>
<path d="M245.5,362.5 h6 M245.5,370 h12" stroke="#2db34a" stroke-width="1.2"/>
<circle cx="259.5" cy="382" r="3.2" fill="#f4f4f4" stroke="#999" stroke-width="0.4"/>
<circle cx="247" cy="381.8" r="1.3" fill="#e02020"/><circle cx="251.4" cy="381.8" r="1.3" fill="#20a0e0"/>
<path d="M247,382.5 V391.7 H268 V350.3 H274.6" fill="none" stroke="#e0407a" stroke-width="1"/>
<path d="M251.4,382.5 V389.7 H302.9 V362.8 H291" fill="none" stroke="#30a8e0" stroke-width="1"/>
<path d="M302.9,380 L288,391 M302.9,383 L297,391" stroke="#60c0f0" stroke-width="0.4"/>
<path d="M275.5,342.5 Q283,340 290,342.5 Q292,348.5 290,355 Q283,357 275.5,355 Q273.5,348.5 275.5,342.5 Z" fill="#6a5a50"/>
<path d="M275.5,360.8 Q283,358.5 290,360.8 Q292,367 290,374 Q283,376 275.5,374 Q273.5,367 275.5,360.8 Z" fill="#6a5a50"/>
<path d="M277,337 h12 M283,334.5 v8 M279,377 h9 M283,374 v6" stroke="#555" stroke-width="1.6"/>
<rect x="282.2" y="344" width="1.8" height="28" fill="#222"/>
<path d="M279,346 l8,6 M287,346 l-8,6 M279,364 l8,6 M287,364 l-8,6" stroke="#ddd" stroke-width="0.7"/>
<rect x="299" y="367.4" width="7.8" height="14.4" rx="2" fill="#d8a060"/>
<path d="M299,370.5 h7.8 M299,373.5 h7.8 M299,376.5 h7.8" stroke="#5a2a10" stroke-width="1.2"/>
<path d="M299,379.5 h7.8" stroke="#f0c020" stroke-width="1.5"/>
<rect x="271.4" y="391" width="25.6" height="19" fill="#fff" stroke="#111" stroke-width="1"/>
<rect x="271.4" y="408" width="25.6" height="2.2" fill="#111"/>
<path d="M281,410 L279,413.5 H289.5 L287.5,410 Z" fill="#111"/>
<text x="284.2" y="402.8" font-size="6.2" text-anchor="middle" fill="#111" font-weight="normal" font-style="normal" style='font-family:"Liberation Serif",serif' textLength="22" lengthAdjust="spacingAndGlyphs">&#916;V&#8594;&#916;R</text>
<path d="M575.3,460.2 V411.8 A31.5,30.9 0 0 1 606.8,380.9 H651.7 V460.2" fill="#fff" stroke="#222" stroke-width="0.8"/>
<rect x="593.4" y="389.5" width="48.2" height="64.3" rx="1.8" fill="url(#chamb)"/>
<rect x="605.2" y="391.8" width="23.9" height="7.5" rx="3.7" fill="#1a1a60" stroke="#222" stroke-width="0.5"/>
<text x="617.2" y="397.6" font-size="5.5" text-anchor="middle" fill="#30c0a0" font-weight="normal" font-style="normal" style='font-family:"Liberation Serif",serif' >T=45 ºC</text>
<rect x="605.5" y="402" width="23" height="40" rx="1.5" fill="#111"/>
<rect x="607.8" y="403.6" width="19" height="36.4" fill="#fbe0b4"/>
<path d="M610,408 Q617,404.5 625,408 Q626.5,412 625,416 Q617,418 610,416 Q608.5,412 610,408 Z" fill="#a89a88"/>
<path d="M610,423 Q617,420.5 625,423 Q626.5,427 625,431.5 Q617,433.5 610,431.5 Q608.5,427 610,423 Z" fill="#a89a88"/>
<rect x="616.8" y="410" width="1.3" height="20" fill="#111"/>
<path d="M614,434 h7 v3 h-7 Z" fill="#a89a88"/>
<ellipse cx="635.3" cy="422.3" rx="1.6" ry="4" fill="#111"/>
<rect x="610.7" y="444.6" width="13.2" height="6.6" rx="3.3" fill="#333"/>
<circle cx="621.3" cy="447" r="1.6" fill="#e02020"/><circle cx="614" cy="449.3" r="0.9" fill="#40a0ff"/><circle cx="616.6" cy="449.3" r="0.9" fill="#c0e020"/><circle cx="613" cy="446" r="0.7" fill="#ddd"/><circle cx="615.6" cy="446" r="0.7" fill="#ddd"/>
</svg></body></html>
